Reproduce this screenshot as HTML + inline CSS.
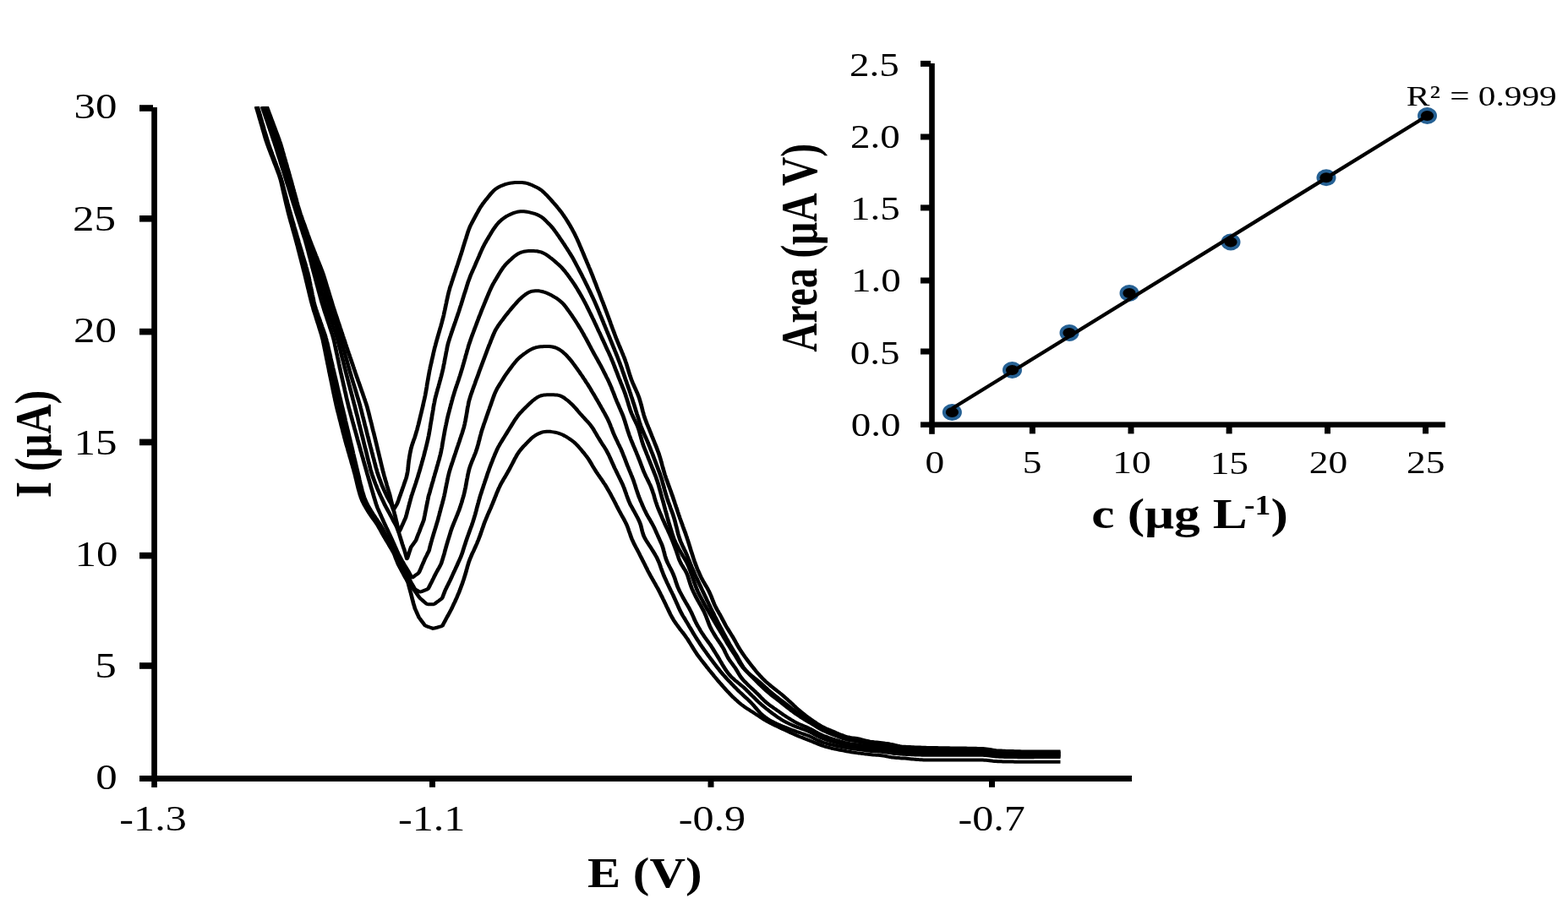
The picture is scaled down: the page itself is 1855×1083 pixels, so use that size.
<!DOCTYPE html><html><head><meta charset="utf-8"><title>Voltammograms and calibration plot</title><style>html,body{margin:0;padding:0;background:#fff;}body{width:1855px;height:1083px;overflow:hidden;}svg{display:block;} text{font-family:"Liberation Serif","Times New Roman",serif;fill:#000;}</style></head><body>
<svg width="1855" height="1083" viewBox="0 0 1855 1083">
<rect width="1855" height="1083" fill="#fff"/>
<defs><clipPath id="pc"><rect x="150" y="125.8" width="1200" height="900"/></clipPath></defs>
<g clip-path="url(#pc)"><g transform="scale(1.17,1)" fill="none" stroke="#000" stroke-width="4.0" stroke-linejoin="round" stroke-linecap="butt">
<path d="M259.0,126.0 L259.4,127.9 L259.9,129.8 L260.4,131.8 L260.9,133.7 L261.4,135.6 L261.8,137.5 L262.3,139.5 L262.8,141.4 L263.3,143.3 L263.7,145.2 L264.2,147.1 L264.7,149.1 L265.2,151.0 L265.6,152.9 L266.1,154.8 L266.6,156.8 L267.1,158.7 L267.5,160.6 L268.0,162.5 L268.5,164.4 L269.0,166.3 L269.6,168.2 L270.1,170.1 L270.7,172.0 L271.3,173.9 L271.9,175.8 L272.5,177.6 L273.1,179.5 L273.7,181.4 L274.3,183.2 L275.0,185.1 L275.6,187.0 L276.2,188.8 L276.8,190.7 L277.4,192.6 L278.0,194.4 L278.7,196.3 L279.3,198.2 L279.9,200.0 L280.5,201.9 L281.1,203.8 L281.7,205.7 L282.3,207.5 L282.8,209.4 L283.3,211.3 L283.8,213.3 L284.2,215.2 L284.6,217.1 L285.0,219.1 L285.4,221.0 L285.8,223.0 L286.1,224.9 L286.5,226.9 L286.9,228.8 L287.3,230.8 L287.7,232.7 L288.0,234.7 L288.4,236.6 L288.8,238.6 L289.2,240.5 L289.6,242.5 L290.0,244.4 L290.4,246.4 L290.8,248.3 L291.2,250.3 L291.6,252.2 L292.0,254.1 L292.5,256.1 L292.9,258.0 L293.4,259.9 L293.8,261.9 L294.3,263.8 L294.8,265.7 L295.2,267.7 L295.7,269.6 L296.1,271.5 L296.6,273.4 L297.1,275.4 L297.5,277.3 L298.0,279.2 L298.4,281.1 L298.9,283.1 L299.3,285.0 L299.8,286.9 L300.2,288.9 L300.7,290.8 L301.1,292.7 L301.5,294.7 L301.9,296.6 L302.4,298.6 L302.8,300.5 L303.2,302.4 L303.6,304.4 L304.1,306.3 L304.5,308.3 L304.9,310.2 L305.3,312.1 L305.8,314.1 L306.2,316.0 L306.6,317.9 L307.0,319.9 L307.5,321.8 L307.9,323.8 L308.3,325.7 L308.7,327.7 L309.1,329.6 L309.5,331.5 L309.9,333.5 L310.3,335.4 L310.7,337.4 L311.1,339.3 L311.5,341.3 L311.9,343.2 L312.3,345.2 L312.7,347.1 L313.1,349.1 L313.5,351.0 L313.9,352.9 L314.3,354.9 L314.7,356.8 L315.2,358.8 L315.6,360.7 L316.1,362.6 L316.6,364.5 L317.0,366.5 L317.5,368.4 L318.1,370.3 L318.6,372.2 L319.1,374.1 L319.6,376.0 L320.1,377.9 L320.6,379.8 L321.1,381.7 L321.7,383.6 L322.2,385.5 L322.7,387.5 L323.2,389.4 L323.7,391.3 L324.2,393.2 L324.7,395.1 L325.2,397.0 L325.6,398.9 L326.1,400.9 L326.5,402.8 L326.8,404.8 L327.2,406.7 L327.5,408.7 L327.9,410.7 L328.2,412.6 L328.6,414.6 L328.9,416.5 L329.2,418.5 L329.6,420.5 L329.9,422.4 L330.2,424.4 L330.6,426.4 L330.9,428.3 L331.2,430.3 L331.6,432.2 L331.9,434.2 L332.3,436.2 L332.6,438.1 L332.9,440.1 L333.3,442.0 L333.6,444.0 L334.0,446.0 L334.3,447.9 L334.7,449.9 L335.0,451.8 L335.4,453.8 L335.7,455.8 L336.0,457.7 L336.4,459.7 L336.7,461.6 L337.1,463.6 L337.4,465.6 L337.8,467.5 L338.1,469.5 L338.5,471.4 L338.8,473.4 L339.2,475.4 L339.6,477.3 L339.9,479.3 L340.3,481.2 L340.7,483.2 L341.1,485.1 L341.5,487.0 L342.0,489.0 L342.4,490.9 L342.8,492.9 L343.2,494.8 L343.6,496.7 L344.1,498.7 L344.5,500.6 L344.9,502.6 L345.3,504.5 L345.8,506.4 L346.2,508.4 L346.6,510.3 L347.0,512.3 L347.5,514.2 L347.9,516.1 L348.3,518.1 L348.8,520.0 L349.2,521.9 L349.7,523.9 L350.1,525.8 L350.6,527.7 L351.1,529.6 L351.6,531.6 L352.0,533.5 L352.5,535.4 L353.0,537.3 L353.4,539.2 L353.9,541.2 L354.4,543.1 L354.9,545.0 L355.3,546.9 L355.8,548.9 L356.3,550.8 L356.7,552.7 L357.2,554.6 L357.7,556.6 L358.1,558.5 L358.6,560.4 L359.0,562.4 L359.4,564.3 L359.8,566.3 L360.2,568.2 L360.6,570.1 L361.0,572.1 L361.4,574.0 L361.8,576.0 L362.2,577.9 L362.7,579.9 L363.1,581.8 L363.6,583.7 L364.0,585.6 L364.6,587.5 L365.1,589.4 L365.8,591.3 L366.4,593.1 L367.2,594.9 L367.9,596.7 L368.7,598.4 L369.6,600.2 L370.4,601.9 L371.3,603.6 L372.2,605.3 L373.1,607.0 L374.1,608.7 L375.0,610.3 L376.0,612.0 L377.0,613.6 L378.0,615.2 L379.0,616.8 L380.0,618.5 L380.9,620.1 L381.9,621.8 L382.7,623.5 L383.6,625.3 L384.4,627.0 L385.2,628.8 L386.0,630.5 L386.9,632.3 L387.7,634.0 L388.6,635.7 L389.5,637.5 L390.3,639.2 L391.2,640.9 L392.1,642.6 L393.0,644.3 L393.8,646.1 L394.7,647.8 L395.6,649.5 L396.4,651.2 L397.3,653.0 L398.1,654.7 L398.8,656.5 L399.4,658.4 L400.0,660.3 L400.6,662.1 L401.3,664.0 L401.9,665.9 L402.5,667.7 L403.3,669.5 L404.1,671.3 L404.9,673.0 L405.7,674.8 L406.5,676.5 L407.4,678.3 L408.2,680.1 L409.0,681.8 L409.8,683.6 L410.7,685.3 L411.5,687.1 L412.3,688.8 L412.8,690.7 L413.2,692.7 L413.7,694.6 L414.1,696.5 L414.6,698.5 L415.0,700.4 L415.5,702.3 L415.9,704.3 L416.3,706.2 L416.7,708.2 L417.1,710.1 L417.6,712.0 L418.0,714.0 L418.5,715.9 L419.0,717.8 L419.4,719.7 L420.1,721.6 L420.8,723.4 L421.5,725.2 L422.2,727.1 L422.9,728.9 L423.6,730.7 L424.6,732.3 L425.6,733.9 L426.6,735.5 L427.7,737.1 L428.7,738.7 L429.7,740.3 L431.3,741.1 L432.9,741.8 L434.5,742.5 L436.1,743.2 L437.7,743.9 L439.3,743.5 L441.0,743.0 L442.6,742.5 L444.3,741.9 L445.9,741.4 L447.4,740.6 L448.2,738.8 L449.0,737.0 L449.8,735.3 L450.6,733.5 L451.4,731.7 L452.2,730.0 L453.1,728.3 L453.9,726.5 L454.7,724.7 L455.5,723.0 L456.3,721.2 L457.1,719.4 L457.8,717.6 L458.5,715.8 L459.2,714.0 L460.0,712.2 L460.7,710.3 L461.4,708.5 L462.1,706.7 L462.7,704.9 L463.4,703.0 L464.1,701.2 L464.7,699.3 L465.3,697.4 L465.9,695.6 L466.5,693.7 L467.1,691.8 L467.7,689.9 L468.2,688.0 L468.8,686.1 L469.3,684.2 L469.8,682.3 L470.3,680.4 L470.8,678.5 L471.3,676.6 L471.7,674.6 L472.2,672.7 L472.6,670.8 L473.1,668.9 L473.6,667.0 L474.1,665.1 L474.7,663.2 L475.3,661.3 L476.0,659.5 L476.6,657.7 L477.3,655.8 L478.0,654.0 L478.8,652.2 L479.5,650.4 L480.2,648.5 L480.9,646.7 L481.6,644.9 L482.3,643.1 L482.9,641.2 L483.6,639.4 L484.2,637.5 L484.8,635.6 L485.4,633.8 L486.0,631.9 L486.5,630.0 L487.1,628.1 L487.6,626.2 L488.2,624.3 L488.8,622.4 L489.3,620.5 L489.9,618.7 L490.5,616.8 L491.2,614.9 L491.8,613.1 L492.5,611.2 L493.1,609.4 L493.8,607.6 L494.5,605.7 L495.2,603.9 L495.9,602.1 L496.6,600.2 L497.2,598.4 L497.9,596.5 L498.5,594.7 L499.2,592.8 L499.8,591.0 L500.4,589.1 L501.1,587.3 L501.7,585.4 L502.3,583.5 L503.0,581.7 L503.7,579.8 L504.3,578.0 L505.1,576.2 L505.8,574.4 L506.6,572.7 L507.4,570.9 L508.3,569.2 L509.1,567.4 L510.0,565.7 L510.9,564.0 L511.7,562.3 L512.6,560.5 L513.4,558.8 L514.3,557.0 L515.1,555.3 L515.9,553.5 L516.7,551.7 L517.5,550.0 L518.3,548.2 L519.1,546.4 L519.8,544.7 L520.6,542.9 L521.5,541.1 L522.3,539.4 L523.1,537.7 L524.1,536.0 L525.0,534.4 L526.1,532.8 L527.2,531.3 L528.3,529.8 L529.4,528.3 L530.6,526.9 L531.8,525.4 L533.0,524.0 L534.2,522.5 L535.4,521.1 L536.6,519.7 L537.8,518.4 L539.1,517.1 L540.5,516.0 L541.9,514.9 L543.3,514.0 L544.9,513.1 L546.4,512.4 L548.0,511.7 L549.6,511.2 L551.2,510.9 L552.8,510.7 L554.5,510.7 L556.2,510.8 L557.8,511.1 L559.5,511.4 L561.2,511.7 L562.8,512.2 L564.5,512.7 L566.1,513.3 L567.6,514.0 L569.2,514.8 L570.6,515.7 L572.1,516.7 L573.6,517.7 L575.0,518.8 L576.4,519.9 L577.8,521.0 L579.2,522.2 L580.5,523.4 L581.8,524.8 L583.0,526.2 L584.2,527.6 L585.3,529.1 L586.4,530.6 L587.5,532.1 L588.6,533.7 L589.7,535.2 L590.8,536.7 L591.8,538.3 L592.9,539.9 L593.9,541.5 L594.9,543.1 L595.8,544.8 L596.7,546.5 L597.6,548.2 L598.4,549.9 L599.3,551.7 L600.2,553.4 L601.1,555.1 L602.0,556.8 L602.9,558.5 L603.8,560.1 L604.8,561.8 L605.8,563.4 L606.8,565.1 L607.8,566.7 L608.7,568.3 L609.7,570.0 L610.6,571.7 L611.6,573.3 L612.5,575.0 L613.4,576.7 L614.2,578.5 L615.1,580.2 L615.9,581.9 L616.8,583.7 L617.6,585.4 L618.4,587.2 L619.2,589.0 L620.0,590.7 L620.8,592.5 L621.6,594.3 L622.4,596.1 L623.1,597.8 L623.9,599.6 L624.7,601.4 L625.5,603.2 L626.3,605.0 L627.1,606.7 L627.9,608.5 L628.7,610.2 L629.6,612.0 L630.4,613.7 L631.2,615.4 L632.0,617.2 L632.8,619.0 L633.5,620.8 L634.2,622.6 L634.8,624.5 L635.4,626.4 L635.9,628.3 L636.5,630.1 L637.1,632.0 L637.6,633.9 L638.2,635.8 L638.8,637.7 L639.5,639.5 L640.2,641.3 L640.9,643.1 L641.7,644.9 L642.5,646.7 L643.3,648.5 L644.1,650.2 L644.9,652.0 L645.7,653.8 L646.5,655.5 L647.2,657.3 L648.0,659.1 L648.8,660.9 L649.6,662.7 L650.3,664.4 L651.1,666.2 L651.9,668.0 L652.6,669.8 L653.4,671.6 L654.2,673.4 L654.9,675.2 L655.7,677.0 L656.5,678.7 L657.3,680.5 L658.1,682.2 L659.0,684.0 L659.8,685.7 L660.7,687.5 L661.5,689.2 L662.4,690.9 L663.2,692.7 L664.0,694.4 L664.9,696.2 L665.7,697.9 L666.5,699.7 L667.3,701.5 L668.0,703.3 L668.8,705.1 L669.6,706.9 L670.3,708.7 L671.1,710.5 L671.8,712.3 L672.6,714.1 L673.3,715.9 L674.0,717.7 L674.8,719.5 L675.5,721.3 L676.2,723.1 L677.0,724.9 L677.7,726.7 L678.5,728.5 L679.3,730.2 L680.2,732.0 L681.0,733.7 L682.0,735.4 L682.9,737.0 L683.9,738.7 L684.9,740.3 L685.9,741.9 L686.9,743.5 L687.9,745.1 L689.0,746.7 L690.0,748.3 L691.1,749.8 L692.1,751.4 L693.1,753.0 L694.1,754.7 L695.1,756.3 L696.0,758.0 L696.9,759.7 L697.8,761.4 L698.7,763.1 L699.6,764.8 L700.5,766.5 L701.4,768.2 L702.3,769.9 L703.2,771.6 L704.2,773.3 L705.1,774.9 L706.1,776.5 L707.2,778.1 L708.2,779.7 L709.2,781.3 L710.3,782.9 L711.3,784.4 L712.4,786.0 L713.5,787.6 L714.5,789.2 L715.6,790.7 L716.6,792.3 L717.7,793.9 L718.8,795.4 L719.9,797.0 L721.0,798.5 L722.0,800.1 L723.1,801.6 L724.2,803.1 L725.3,804.7 L726.4,806.2 L727.5,807.7 L728.7,809.2 L729.8,810.7 L730.9,812.2 L732.1,813.7 L733.2,815.2 L734.3,816.7 L735.5,818.2 L736.7,819.6 L737.8,821.1 L739.0,822.5 L740.2,824.0 L741.4,825.4 L742.7,826.7 L743.9,828.1 L745.2,829.4 L746.5,830.8 L747.8,832.1 L749.1,833.4 L750.4,834.6 L751.8,835.8 L753.2,836.9 L754.6,838.1 L756.0,839.1 L757.5,840.2 L758.9,841.3 L760.4,842.3 L761.8,843.4 L763.2,844.5 L764.7,845.6 L766.1,846.7 L767.5,847.8 L768.9,848.9 L770.3,850.0 L771.8,851.1 L773.2,852.2 L774.7,853.2 L776.2,854.1 L777.7,855.1 L779.2,856.0 L780.7,856.9 L782.3,857.8 L783.8,858.7 L785.4,859.5 L786.9,860.4 L788.4,861.3 L790.0,862.1 L791.5,863.0 L793.1,863.8 L794.6,864.6 L796.2,865.5 L797.8,866.3 L799.3,867.2 L800.9,868.0 L802.4,868.8 L804.0,869.6 L805.5,870.4 L807.1,871.2 L808.7,872.0 L810.3,872.7 L811.9,873.4 L813.5,874.2 L815.1,874.9 L816.7,875.6 L818.3,876.3 L819.9,877.1 L821.4,877.8 L823.0,878.6 L824.6,879.3 L826.2,880.1 L827.8,880.9 L829.4,881.6 L831.0,882.3 L832.6,883.0 L834.2,883.6 L835.8,884.2 L837.5,884.7 L839.1,885.2 L840.8,885.7 L842.4,886.1 L844.1,886.5 L845.8,886.9 L847.5,887.3 L849.2,887.7 L850.8,888.0 L852.5,888.4 L854.2,888.8 L855.9,889.2 L857.6,889.5 L859.2,889.8 L860.9,890.2 L862.6,890.5 L864.3,890.8 L866.0,891.1 L867.7,891.4 L869.4,891.6 L871.1,891.9 L872.8,892.1 L874.5,892.4 L876.2,892.6 L877.9,892.8 L879.6,893.1 L881.3,893.2 L883.0,893.4 L884.7,893.5 L886.4,893.7 L888.1,893.8 L889.8,894.0 L891.5,894.2 L893.2,894.5 L894.8,894.8 L896.5,895.2 L898.1,895.6 L899.8,896.0 L901.5,896.4 L903.1,896.6 L904.8,896.8 L906.5,897.0 L908.2,897.1 L909.9,897.3 L911.6,897.4 L913.4,897.5 L915.1,897.6 L916.8,897.8 L918.5,898.0 L920.2,898.2 L921.9,898.4 L923.6,898.6 L925.3,898.7 L927.0,898.9 L928.7,899.1 L930.4,899.2 L932.1,899.3 L933.8,899.4 L935.5,899.5 L937.2,899.5 L938.9,899.5 L940.6,899.5 L942.4,899.5 L944.1,899.5 L945.8,899.5 L947.5,899.5 L949.2,899.5 L950.9,899.5 L952.6,899.5 L954.3,899.5 L956.0,899.5 L957.7,899.5 L959.5,899.5 L961.2,899.5 L962.9,899.5 L964.6,899.5 L966.3,899.5 L968.0,899.5 L969.7,899.5 L971.4,899.5 L973.1,899.5 L974.9,899.5 L976.6,899.5 L978.3,899.5 L980.0,899.5 L981.7,899.5 L983.4,899.5 L985.1,899.5 L986.8,899.5 L988.5,899.5 L990.2,899.5 L992.0,899.5 L993.7,899.6 L995.4,899.7 L997.1,899.8 L998.8,900.0 L1000.5,900.2 L1002.2,900.4 L1003.8,900.7 L1005.5,900.9 L1007.2,901.0 L1008.9,901.2 L1010.7,901.3 L1012.4,901.3 L1014.1,901.4 L1015.8,901.4 L1017.5,901.5 L1019.2,901.5 L1020.9,901.6 L1022.6,901.6 L1024.3,901.6 L1026.0,901.7 L1027.7,901.7 L1029.5,901.7 L1031.2,901.8 L1032.9,901.8 L1034.6,901.8 L1036.3,901.8 L1038.0,901.8 L1039.7,901.8 L1041.4,901.8 L1043.1,901.8 L1044.9,901.8 L1046.6,901.8 L1048.3,901.8 L1050.0,901.8 L1051.7,901.8 L1053.4,901.8 L1055.1,901.8 L1056.8,901.8 L1058.5,901.8 L1060.2,901.8 L1062.0,901.8 L1063.7,901.8 L1065.4,901.8 L1067.1,901.8 L1068.8,901.8 L1070.5,901.8 L1072.2,901.8"/>
<path d="M259.7,126.0 L260.1,127.9 L260.6,129.8 L261.1,131.8 L261.6,133.7 L262.0,135.6 L262.5,137.5 L263.0,139.4 L263.5,141.4 L263.9,143.3 L264.4,145.2 L264.9,147.1 L265.4,149.1 L265.8,151.0 L266.3,152.9 L266.8,154.8 L267.3,156.7 L267.7,158.7 L268.2,160.6 L268.7,162.5 L269.2,164.4 L269.7,166.3 L270.2,168.2 L270.8,170.1 L271.4,172.0 L272.0,173.9 L272.6,175.7 L273.2,177.6 L273.8,179.5 L274.4,181.3 L275.0,183.2 L275.6,185.1 L276.3,186.9 L276.9,188.8 L277.5,190.7 L278.1,192.5 L278.7,194.4 L279.3,196.3 L279.9,198.1 L280.6,200.0 L281.2,201.9 L281.8,203.7 L282.4,205.6 L282.9,207.5 L283.5,209.4 L284.0,211.3 L284.5,213.2 L284.9,215.1 L285.3,217.1 L285.8,219.0 L286.2,221.0 L286.6,222.9 L287.0,224.8 L287.4,226.8 L287.8,228.7 L288.2,230.7 L288.6,232.6 L289.0,234.6 L289.4,236.5 L289.8,238.5 L290.2,240.4 L290.6,242.3 L291.0,244.3 L291.4,246.2 L291.8,248.2 L292.2,250.1 L292.7,252.0 L293.1,254.0 L293.6,255.9 L294.0,257.8 L294.5,259.8 L294.9,261.7 L295.4,263.6 L295.9,265.5 L296.3,267.5 L296.8,269.4 L297.3,271.3 L297.7,273.2 L298.2,275.2 L298.6,277.1 L299.1,279.0 L299.6,280.9 L300.0,282.9 L300.5,284.8 L301.0,286.7 L301.4,288.6 L301.9,290.6 L302.3,292.5 L302.8,294.4 L303.2,296.3 L303.7,298.3 L304.2,300.2 L304.6,302.1 L305.1,304.1 L305.5,306.0 L306.0,307.9 L306.5,309.8 L306.9,311.8 L307.4,313.7 L307.8,315.6 L308.3,317.5 L308.7,319.5 L309.2,321.4 L309.6,323.3 L310.0,325.3 L310.4,327.2 L310.8,329.2 L311.2,331.1 L311.5,333.1 L311.9,335.0 L312.3,337.0 L312.6,338.9 L313.0,340.9 L313.4,342.9 L313.7,344.8 L314.1,346.8 L314.5,348.7 L314.8,350.7 L315.2,352.6 L315.6,354.6 L316.0,356.5 L316.4,358.5 L316.8,360.4 L317.3,362.3 L317.8,364.2 L318.3,366.1 L318.8,368.0 L319.3,369.9 L319.9,371.8 L320.4,373.7 L321.0,375.6 L321.5,377.5 L322.0,379.4 L322.6,381.3 L323.1,383.2 L323.7,385.1 L324.2,387.0 L324.8,388.9 L325.3,390.8 L325.8,392.7 L326.4,394.6 L326.9,396.5 L327.4,398.4 L327.8,400.3 L328.3,402.3 L328.7,404.2 L329.1,406.2 L329.5,408.1 L329.8,410.1 L330.2,412.0 L330.6,414.0 L330.9,415.9 L331.3,417.9 L331.7,419.8 L332.0,421.8 L332.4,423.7 L332.8,425.7 L333.1,427.6 L333.5,429.6 L333.9,431.5 L334.2,433.5 L334.6,435.5 L335.0,437.4 L335.4,439.4 L335.7,441.3 L336.1,443.3 L336.5,445.2 L336.8,447.2 L337.2,449.1 L337.6,451.1 L338.0,453.0 L338.3,455.0 L338.7,456.9 L339.1,458.9 L339.5,460.8 L339.9,462.8 L340.2,464.7 L340.6,466.7 L341.0,468.6 L341.4,470.6 L341.7,472.5 L342.1,474.5 L342.5,476.4 L342.9,478.4 L343.3,480.3 L343.7,482.3 L344.1,484.2 L344.5,486.2 L344.9,488.1 L345.3,490.0 L345.7,492.0 L346.1,493.9 L346.6,495.9 L347.0,497.8 L347.4,499.7 L347.8,501.7 L348.2,503.6 L348.6,505.6 L349.0,507.5 L349.5,509.4 L349.9,511.4 L350.3,513.3 L350.7,515.3 L351.1,517.2 L351.5,519.1 L351.9,521.1 L352.4,523.0 L352.8,525.0 L353.2,526.9 L353.6,528.9 L354.0,530.8 L354.4,532.7 L354.8,534.7 L355.3,536.6 L355.7,538.6 L356.1,540.5 L356.5,542.4 L356.9,544.4 L357.3,546.3 L357.7,548.3 L358.2,550.2 L358.6,552.1 L359.0,554.1 L359.4,556.0 L359.8,558.0 L360.2,559.9 L360.6,561.9 L361.0,563.8 L361.4,565.7 L361.8,567.7 L362.2,569.6 L362.6,571.6 L363.0,573.5 L363.4,575.5 L363.8,577.4 L364.3,579.3 L364.7,581.3 L365.2,583.2 L365.6,585.1 L366.1,587.0 L366.7,588.9 L367.3,590.8 L368.0,592.6 L368.7,594.4 L369.4,596.2 L370.2,597.9 L371.0,599.7 L371.9,601.4 L372.8,603.2 L373.7,604.9 L374.6,606.6 L375.5,608.2 L376.4,609.9 L377.4,611.6 L378.3,613.2 L379.3,614.9 L380.2,616.5 L381.2,618.2 L382.2,619.9 L383.1,621.5 L383.9,623.3 L384.8,625.0 L385.6,626.8 L386.4,628.5 L387.2,630.3 L388.0,632.0 L388.9,633.8 L389.7,635.5 L390.6,637.2 L391.5,638.9 L392.4,640.6 L393.3,642.4 L394.1,644.1 L395.0,645.8 L395.9,647.5 L396.7,649.3 L397.6,651.0 L398.4,652.7 L399.3,654.5 L400.0,656.3 L400.7,658.1 L401.3,660.0 L402.0,661.8 L402.7,663.6 L403.3,665.5 L404.0,667.3 L404.8,669.1 L405.5,670.9 L406.3,672.7 L407.0,674.5 L407.8,676.3 L408.6,678.1 L409.4,679.8 L410.2,681.6 L411.0,683.3 L411.9,685.1 L412.7,686.8 L413.5,688.6 L414.4,690.3 L415.3,692.0 L416.2,693.7 L417.2,695.3 L418.1,697.0 L419.0,698.7 L420.0,700.4 L421.0,702.0 L421.9,703.6 L422.9,705.3 L423.9,706.9 L425.0,708.4 L426.3,709.7 L427.6,711.0 L428.9,712.3 L430.2,713.6 L431.5,714.9 L433.1,715.2 L434.8,715.2 L436.6,715.2 L438.3,715.2 L439.8,714.5 L441.1,713.3 L442.5,712.1 L443.9,710.9 L445.2,709.7 L446.6,708.5 L447.5,706.9 L448.1,705.0 L448.7,703.2 L449.3,701.3 L449.9,699.4 L450.6,697.6 L451.4,695.8 L452.1,694.0 L452.9,692.2 L453.7,690.4 L454.4,688.6 L455.2,686.8 L455.9,685.0 L456.6,683.2 L457.3,681.4 L458.0,679.6 L458.7,677.7 L459.5,675.9 L460.2,674.1 L460.9,672.3 L461.6,670.5 L462.3,668.7 L463.0,666.8 L463.7,665.0 L464.4,663.2 L465.1,661.4 L465.8,659.5 L466.4,657.7 L467.0,655.8 L467.6,653.9 L468.1,652.0 L468.6,650.1 L469.1,648.2 L469.6,646.3 L470.2,644.4 L470.7,642.5 L471.2,640.6 L471.8,638.7 L472.3,636.8 L472.9,634.9 L473.5,633.0 L474.1,631.2 L474.6,629.3 L475.2,627.4 L475.8,625.5 L476.4,623.6 L477.0,621.8 L477.5,619.9 L478.1,618.0 L478.6,616.1 L479.1,614.2 L479.6,612.3 L480.1,610.3 L480.6,608.4 L481.0,606.5 L481.5,604.5 L481.9,602.6 L482.3,600.7 L482.8,598.8 L483.2,596.8 L483.7,594.9 L484.1,593.0 L484.6,591.0 L485.1,589.1 L485.5,587.2 L486.0,585.3 L486.6,583.4 L487.1,581.5 L487.6,579.6 L488.2,577.7 L488.7,575.8 L489.2,573.9 L489.8,572.0 L490.3,570.1 L490.9,568.2 L491.4,566.3 L492.0,564.4 L492.5,562.5 L493.0,560.6 L493.6,558.7 L494.2,556.8 L494.7,554.9 L495.3,553.1 L495.9,551.2 L496.5,549.3 L497.1,547.5 L497.8,545.6 L498.4,543.7 L499.0,541.9 L499.7,540.0 L500.3,538.2 L501.0,536.3 L501.7,534.5 L502.3,532.7 L503.1,530.9 L503.8,529.1 L504.7,527.3 L505.5,525.6 L506.4,523.9 L507.3,522.2 L508.2,520.5 L509.1,518.8 L510.0,517.1 L510.9,515.4 L511.8,513.7 L512.7,512.0 L513.6,510.3 L514.5,508.6 L515.4,506.9 L516.3,505.2 L517.2,503.5 L518.1,501.8 L519.0,500.1 L519.9,498.4 L520.8,496.7 L521.8,495.1 L522.8,493.5 L523.8,491.9 L524.9,490.3 L526.0,488.8 L527.1,487.4 L528.3,485.9 L529.5,484.5 L530.7,483.1 L531.9,481.7 L533.2,480.3 L534.4,478.9 L535.6,477.5 L536.9,476.2 L538.1,474.8 L539.5,473.6 L540.8,472.3 L542.1,471.2 L543.5,470.1 L545.0,469.2 L546.5,468.5 L548.1,468.0 L549.7,467.6 L551.3,467.4 L553.0,467.3 L554.7,467.2 L556.4,467.2 L558.1,467.2 L559.8,467.3 L561.5,467.4 L563.1,467.5 L564.7,467.9 L566.3,468.4 L567.8,469.1 L569.2,470.0 L570.6,471.0 L571.9,472.2 L573.3,473.4 L574.6,474.7 L575.9,476.0 L577.1,477.3 L578.4,478.7 L579.6,480.1 L580.7,481.6 L581.9,483.0 L583.0,484.5 L584.1,486.1 L585.2,487.6 L586.3,489.1 L587.4,490.6 L588.6,492.1 L589.7,493.6 L590.9,495.1 L592.0,496.5 L593.2,498.0 L594.4,499.4 L595.5,500.9 L596.6,502.4 L597.6,504.0 L598.6,505.6 L599.6,507.3 L600.5,509.0 L601.3,510.7 L602.2,512.4 L603.1,514.1 L603.9,515.9 L604.8,517.6 L605.7,519.3 L606.6,521.0 L607.5,522.7 L608.4,524.4 L609.3,526.1 L610.3,527.7 L611.2,529.4 L612.1,531.1 L613.0,532.8 L613.8,534.6 L614.6,536.3 L615.4,538.1 L616.1,539.9 L616.8,541.7 L617.5,543.5 L618.2,545.4 L618.9,547.2 L619.6,549.0 L620.3,550.8 L621.0,552.7 L621.7,554.5 L622.5,556.3 L623.2,558.1 L624.0,559.9 L624.7,561.7 L625.5,563.5 L626.2,565.3 L627.0,567.1 L627.7,568.9 L628.5,570.7 L629.2,572.5 L629.9,574.3 L630.5,576.1 L631.2,578.0 L631.7,579.9 L632.3,581.8 L632.9,583.6 L633.4,585.5 L634.0,587.4 L634.6,589.3 L635.2,591.2 L635.8,593.0 L636.5,594.9 L637.2,596.7 L637.9,598.4 L638.8,600.2 L639.6,601.9 L640.4,603.7 L641.3,605.4 L642.1,607.2 L642.9,608.9 L643.7,610.7 L644.5,612.4 L645.3,614.2 L646.0,616.0 L646.7,617.8 L647.3,619.7 L647.9,621.6 L648.3,623.5 L648.7,625.4 L649.1,627.3 L649.5,629.2 L650.0,631.1 L650.5,633.0 L651.1,634.8 L651.9,636.6 L652.7,638.3 L653.5,640.0 L654.5,641.7 L655.4,643.4 L656.3,645.1 L657.3,646.7 L658.2,648.4 L659.1,650.1 L660.0,651.8 L660.9,653.5 L661.8,655.2 L662.6,656.9 L663.5,658.7 L664.3,660.4 L665.0,662.2 L665.7,664.0 L666.4,665.9 L667.0,667.7 L667.6,669.6 L668.1,671.5 L668.7,673.4 L669.3,675.3 L669.9,677.1 L670.5,679.0 L671.1,680.8 L671.8,682.7 L672.5,684.5 L673.2,686.3 L673.9,688.1 L674.6,690.0 L675.4,691.8 L676.1,693.6 L676.8,695.4 L677.6,697.2 L678.3,699.0 L679.1,700.8 L679.8,702.5 L680.6,704.3 L681.3,706.2 L682.0,708.0 L682.7,709.8 L683.4,711.6 L684.1,713.5 L684.8,715.3 L685.5,717.1 L686.2,719.0 L686.9,720.8 L687.6,722.6 L688.4,724.3 L689.2,726.1 L690.0,727.8 L690.9,729.6 L691.8,731.3 L692.7,733.0 L693.5,734.7 L694.4,736.4 L695.3,738.1 L696.2,739.9 L697.0,741.6 L697.9,743.3 L698.8,745.0 L699.7,746.7 L700.5,748.5 L701.4,750.2 L702.3,751.9 L703.2,753.6 L704.1,755.3 L705.0,757.0 L705.9,758.6 L706.9,760.3 L707.8,762.0 L708.8,763.7 L709.7,765.3 L710.7,766.9 L711.7,768.6 L712.7,770.2 L713.7,771.8 L714.7,773.5 L715.7,775.1 L716.7,776.7 L717.7,778.3 L718.7,779.9 L719.8,781.5 L720.8,783.1 L721.8,784.7 L722.9,786.3 L723.9,787.9 L724.9,789.5 L726.0,791.0 L727.1,792.6 L728.1,794.2 L729.2,795.7 L730.3,797.2 L731.4,798.7 L732.6,800.2 L733.7,801.7 L734.8,803.2 L736.0,804.7 L737.2,806.2 L738.3,807.6 L739.5,809.1 L740.7,810.5 L741.9,811.9 L743.1,813.4 L744.3,814.8 L745.5,816.2 L746.7,817.6 L747.9,819.0 L749.2,820.4 L750.4,821.7 L751.7,823.1 L752.9,824.5 L754.2,825.8 L755.5,827.2 L756.7,828.5 L757.9,829.9 L759.1,831.3 L760.3,832.8 L761.5,834.2 L762.6,835.7 L763.7,837.3 L764.8,838.8 L765.9,840.3 L767.1,841.8 L768.2,843.2 L769.4,844.6 L770.7,846.0 L772.0,847.3 L773.3,848.5 L774.7,849.6 L776.1,850.7 L777.5,851.8 L779.0,852.8 L780.5,853.8 L782.0,854.7 L783.5,855.6 L785.1,856.5 L786.6,857.3 L788.2,858.1 L789.7,858.9 L791.3,859.7 L792.9,860.4 L794.5,861.1 L796.1,861.9 L797.7,862.6 L799.3,863.3 L800.9,864.0 L802.5,864.7 L804.1,865.4 L805.7,866.1 L807.3,866.7 L808.9,867.3 L810.6,868.0 L812.2,868.6 L813.8,869.3 L815.4,870.0 L817.0,870.7 L818.6,871.4 L820.1,872.3 L821.6,873.1 L823.1,874.0 L824.6,874.9 L826.1,875.8 L827.7,876.6 L829.3,877.4 L830.8,878.1 L832.4,878.8 L834.1,879.4 L835.7,880.0 L837.3,880.5 L839.0,881.0 L840.7,881.5 L842.3,881.9 L844.0,882.3 L845.7,882.8 L847.3,883.2 L849.0,883.6 L850.7,884.0 L852.4,884.4 L854.0,884.8 L855.7,885.1 L857.4,885.4 L859.1,885.7 L860.8,886.0 L862.5,886.3 L864.2,886.5 L865.9,886.7 L867.6,887.0 L869.3,887.2 L871.0,887.5 L872.7,887.8 L874.4,888.0 L876.1,888.3 L877.7,888.5 L879.4,888.7 L881.2,888.9 L882.9,889.0 L884.6,889.1 L886.3,889.3 L888.0,889.4 L889.7,889.5 L891.4,889.7 L893.1,889.9 L894.8,890.2 L896.4,890.5 L898.1,890.8 L899.8,891.1 L901.5,891.4 L903.2,891.7 L904.9,891.9 L906.6,892.1 L908.3,892.3 L910.0,892.5 L911.7,892.6 L913.4,892.7 L915.1,892.8 L916.8,892.9 L918.5,893.0 L920.2,893.1 L921.9,893.2 L923.6,893.3 L925.3,893.4 L927.1,893.5 L928.8,893.6 L930.5,893.6 L932.2,893.7 L933.9,893.7 L935.6,893.7 L937.3,893.7 L939.0,893.7 L940.7,893.7 L942.4,893.7 L944.1,893.7 L945.9,893.7 L947.6,893.7 L949.3,893.7 L951.0,893.7 L952.7,893.7 L954.4,893.7 L956.1,893.7 L957.8,893.7 L959.5,893.7 L961.2,893.7 L962.9,893.7 L964.7,893.7 L966.4,893.7 L968.1,893.7 L969.8,893.7 L971.5,893.7 L973.2,893.7 L974.9,893.7 L976.6,893.7 L978.3,893.7 L980.0,893.7 L981.8,893.7 L983.5,893.7 L985.2,893.7 L986.9,893.7 L988.6,893.7 L990.3,893.7 L992.0,893.7 L993.7,893.8 L995.4,893.9 L997.1,894.1 L998.8,894.3 L1000.5,894.5 L1002.2,894.7 L1003.9,895.0 L1005.6,895.2 L1007.3,895.4 L1009.0,895.6 L1010.7,895.7 L1012.4,895.8 L1014.1,895.8 L1015.8,895.9 L1017.5,895.9 L1019.2,896.0 L1020.9,896.0 L1022.6,896.0 L1024.4,896.1 L1026.1,896.1 L1027.8,896.1 L1029.5,896.2 L1031.2,896.2 L1032.9,896.2 L1034.6,896.2 L1036.3,896.2 L1038.0,896.2 L1039.7,896.2 L1041.4,896.2 L1043.2,896.2 L1044.9,896.2 L1046.6,896.1 L1048.3,896.1 L1050.0,896.1 L1051.7,896.1 L1053.4,896.1 L1055.1,896.1 L1056.8,896.1 L1058.5,896.1 L1060.3,896.1 L1062.0,896.0 L1063.7,896.0 L1065.4,896.0 L1067.1,896.0 L1068.8,896.0 L1070.5,896.0 L1072.2,896.0"/>
<path d="M260.3,126.0 L260.8,127.9 L261.3,129.8 L261.8,131.8 L262.3,133.7 L262.7,135.6 L263.2,137.5 L263.7,139.4 L264.2,141.4 L264.7,143.3 L265.1,145.2 L265.6,147.1 L266.1,149.0 L266.6,151.0 L267.0,152.9 L267.5,154.8 L268.0,156.7 L268.5,158.6 L269.0,160.6 L269.5,162.5 L269.9,164.4 L270.5,166.3 L271.0,168.2 L271.5,170.1 L272.1,172.0 L272.6,173.9 L273.2,175.8 L273.8,177.6 L274.4,179.5 L275.0,181.4 L275.5,183.3 L276.1,185.2 L276.7,187.0 L277.3,188.9 L277.9,190.8 L278.5,192.7 L279.1,194.6 L279.6,196.4 L280.2,198.3 L280.8,200.2 L281.4,202.1 L282.0,204.0 L282.5,205.9 L283.1,207.7 L283.6,209.6 L284.1,211.5 L284.6,213.5 L285.1,215.4 L285.6,217.3 L286.0,219.2 L286.4,221.2 L286.9,223.1 L287.3,225.0 L287.8,227.0 L288.2,228.9 L288.6,230.8 L289.1,232.8 L289.5,234.7 L290.0,236.6 L290.4,238.6 L290.8,240.5 L291.3,242.4 L291.7,244.4 L292.2,246.3 L292.6,248.2 L293.1,250.2 L293.5,252.1 L294.0,254.0 L294.5,255.9 L295.0,257.9 L295.4,259.8 L295.9,261.7 L296.4,263.6 L296.9,265.5 L297.3,267.5 L297.8,269.4 L298.3,271.3 L298.8,273.2 L299.3,275.1 L299.7,277.1 L300.2,279.0 L300.7,280.9 L301.2,282.8 L301.7,284.7 L302.1,286.7 L302.6,288.6 L303.1,290.5 L303.6,292.4 L304.1,294.3 L304.6,296.2 L305.1,298.2 L305.5,300.1 L306.0,302.0 L306.5,303.9 L307.0,305.8 L307.5,307.7 L308.0,309.7 L308.5,311.6 L309.0,313.5 L309.4,315.4 L309.9,317.3 L310.4,319.3 L310.8,321.2 L311.3,323.1 L311.7,325.1 L312.1,327.0 L312.4,329.0 L312.8,330.9 L313.1,332.9 L313.5,334.8 L313.8,336.8 L314.1,338.8 L314.5,340.7 L314.8,342.7 L315.2,344.6 L315.5,346.6 L315.8,348.6 L316.2,350.5 L316.5,352.5 L316.9,354.4 L317.2,356.4 L317.6,358.3 L318.0,360.3 L318.5,362.2 L319.0,364.1 L319.5,366.0 L320.1,367.9 L320.6,369.8 L321.2,371.7 L321.7,373.6 L322.3,375.4 L322.9,377.3 L323.5,379.2 L324.0,381.1 L324.6,383.0 L325.2,384.9 L325.7,386.8 L326.3,388.6 L326.9,390.5 L327.4,392.4 L328.0,394.3 L328.5,396.2 L329.1,398.1 L329.5,400.0 L330.0,401.9 L330.4,403.9 L330.9,405.8 L331.3,407.8 L331.6,409.7 L332.0,411.7 L332.4,413.6 L332.8,415.6 L333.2,417.5 L333.6,419.5 L334.0,421.4 L334.3,423.4 L334.7,425.3 L335.1,427.3 L335.5,429.2 L335.9,431.2 L336.3,433.1 L336.6,435.1 L337.0,437.0 L337.4,438.9 L337.8,440.9 L338.2,442.8 L338.6,444.8 L339.0,446.7 L339.4,448.7 L339.8,450.6 L340.2,452.6 L340.6,454.5 L340.9,456.5 L341.3,458.4 L341.7,460.4 L342.1,462.3 L342.5,464.3 L342.9,466.2 L343.3,468.1 L343.7,470.1 L344.1,472.0 L344.5,474.0 L344.9,475.9 L345.3,477.9 L345.7,479.8 L346.1,481.8 L346.5,483.7 L346.9,485.7 L347.3,487.6 L347.7,489.6 L348.1,491.5 L348.5,493.4 L348.9,495.4 L349.2,497.3 L349.6,499.3 L350.0,501.2 L350.4,503.2 L350.8,505.1 L351.2,507.1 L351.6,509.0 L352.0,511.0 L352.4,512.9 L352.8,514.9 L353.2,516.8 L353.6,518.7 L354.0,520.7 L354.4,522.6 L354.8,524.6 L355.2,526.5 L355.6,528.5 L356.0,530.4 L356.4,532.4 L356.8,534.3 L357.1,536.3 L357.5,538.2 L357.9,540.2 L358.3,542.1 L358.7,544.0 L359.1,546.0 L359.5,547.9 L359.9,549.9 L360.3,551.8 L360.7,553.8 L361.1,555.7 L361.5,557.7 L361.9,559.6 L362.3,561.6 L362.7,563.5 L363.1,565.5 L363.4,567.4 L363.8,569.4 L364.2,571.3 L364.6,573.2 L365.1,575.2 L365.5,577.1 L365.9,579.1 L366.3,581.0 L366.8,582.9 L367.3,584.8 L367.8,586.7 L368.3,588.6 L368.9,590.5 L369.6,592.3 L370.3,594.1 L371.0,595.9 L371.8,597.7 L372.6,599.4 L373.5,601.2 L374.4,602.9 L375.2,604.6 L376.1,606.3 L377.0,608.0 L378.0,609.7 L378.9,611.3 L379.9,613.0 L380.9,614.6 L381.8,616.3 L382.8,618.0 L383.7,619.6 L384.7,621.3 L385.5,623.0 L386.3,624.8 L387.2,626.5 L388.0,628.3 L388.8,630.0 L389.6,631.8 L390.4,633.5 L391.3,635.3 L392.2,637.0 L393.1,638.7 L394.0,640.4 L394.8,642.1 L395.7,643.8 L396.6,645.6 L397.4,647.3 L398.3,649.0 L399.2,650.7 L400.0,652.5 L400.9,654.2 L401.7,656.0 L402.5,657.8 L403.2,659.5 L404.0,661.3 L404.8,663.1 L405.5,664.9 L406.3,666.7 L407.0,668.5 L407.8,670.3 L408.6,672.1 L409.3,673.9 L410.1,675.6 L410.9,677.4 L411.6,679.3 L412.3,681.1 L413.0,682.9 L413.7,684.7 L414.5,686.5 L415.2,688.3 L416.0,690.1 L416.9,691.8 L417.7,693.5 L418.6,695.3 L419.4,697.0 L420.8,698.1 L422.3,699.2 L423.7,700.2 L425.3,700.5 L426.9,699.8 L428.5,699.1 L430.1,698.4 L431.7,697.7 L433.0,696.7 L433.8,694.9 L434.6,693.1 L435.3,691.3 L436.1,689.6 L436.9,687.8 L437.6,686.0 L438.4,684.2 L439.1,682.4 L439.9,680.6 L440.7,678.8 L441.5,677.0 L442.3,675.3 L443.1,673.6 L444.0,671.8 L444.8,670.1 L445.6,668.3 L446.3,666.5 L446.8,664.6 L447.3,662.7 L447.8,660.7 L448.3,658.8 L448.8,656.9 L449.3,655.0 L449.7,653.1 L450.2,651.1 L450.6,649.2 L451.1,647.3 L451.5,645.4 L452.0,643.4 L452.5,641.5 L453.0,639.6 L453.5,637.7 L454.0,635.8 L454.5,633.9 L455.0,632.0 L455.5,630.0 L456.0,628.1 L456.6,626.2 L457.1,624.4 L457.8,622.5 L458.4,620.6 L459.0,618.8 L459.7,616.9 L460.3,615.1 L461.0,613.2 L461.6,611.4 L462.3,609.5 L462.9,607.7 L463.5,605.8 L464.2,604.0 L464.7,602.1 L465.3,600.2 L465.8,598.3 L466.3,596.4 L466.9,594.5 L467.3,592.6 L467.8,590.6 L468.3,588.7 L468.8,586.8 L469.2,584.9 L469.6,582.9 L470.0,581.0 L470.3,579.0 L470.7,577.1 L471.0,575.1 L471.3,573.1 L471.6,571.2 L471.9,569.2 L472.2,567.2 L472.6,565.3 L472.9,563.3 L473.2,561.3 L473.6,559.4 L474.0,557.4 L474.4,555.5 L474.9,553.6 L475.4,551.7 L476.0,549.9 L476.6,548.0 L477.2,546.1 L477.9,544.3 L478.5,542.4 L479.2,540.6 L479.8,538.7 L480.5,536.9 L481.1,535.0 L481.6,533.1 L482.2,531.2 L482.7,529.3 L483.1,527.4 L483.6,525.5 L484.0,523.5 L484.5,521.6 L484.9,519.7 L485.3,517.7 L485.7,515.8 L486.2,513.9 L486.6,511.9 L487.1,510.0 L487.6,508.1 L488.2,506.2 L488.7,504.3 L489.2,502.4 L489.8,500.5 L490.4,498.6 L490.9,496.8 L491.5,494.9 L492.0,493.0 L492.6,491.1 L493.2,489.2 L493.7,487.3 L494.3,485.4 L494.9,483.5 L495.4,481.6 L496.0,479.8 L496.6,477.9 L497.1,476.0 L497.7,474.1 L498.3,472.2 L498.8,470.3 L499.4,468.5 L500.0,466.6 L500.7,464.8 L501.4,462.9 L502.1,461.2 L502.9,459.4 L503.8,457.7 L504.7,456.0 L505.6,454.3 L506.5,452.6 L507.4,450.9 L508.3,449.2 L509.2,447.5 L510.1,445.8 L511.1,444.1 L512.0,442.5 L513.0,440.9 L514.0,439.2 L515.0,437.6 L516.1,436.0 L517.1,434.4 L518.1,432.8 L519.1,431.2 L520.2,429.7 L521.3,428.1 L522.4,426.6 L523.5,425.2 L524.7,423.8 L526.0,422.5 L527.3,421.2 L528.7,420.0 L530.0,418.8 L531.4,417.7 L532.8,416.5 L534.2,415.4 L535.7,414.4 L537.2,413.4 L538.7,412.6 L540.2,411.9 L541.8,411.3 L543.5,410.9 L545.1,410.5 L546.8,410.3 L548.5,410.2 L550.2,410.1 L551.9,410.0 L553.6,410.1 L555.3,410.1 L557.0,410.3 L558.6,410.5 L560.2,411.0 L561.8,411.5 L563.3,412.3 L564.8,413.2 L566.2,414.2 L567.6,415.3 L569.0,416.5 L570.2,417.8 L571.5,419.1 L572.7,420.5 L573.8,422.0 L575.0,423.5 L576.1,425.0 L577.2,426.5 L578.3,428.1 L579.3,429.7 L580.3,431.3 L581.3,432.9 L582.3,434.5 L583.3,436.1 L584.3,437.7 L585.3,439.4 L586.3,441.0 L587.2,442.7 L588.2,444.3 L589.2,446.0 L590.1,447.7 L591.1,449.3 L592.0,451.0 L592.9,452.7 L593.9,454.3 L594.8,456.0 L595.7,457.7 L596.6,459.4 L597.5,461.1 L598.3,462.9 L599.2,464.6 L600.1,466.3 L601.0,468.0 L601.8,469.7 L602.7,471.5 L603.6,473.2 L604.4,474.9 L605.3,476.6 L606.1,478.4 L607.0,480.1 L607.8,481.9 L608.7,483.6 L609.5,485.3 L610.3,487.1 L611.2,488.8 L612.0,490.6 L612.8,492.3 L613.6,494.1 L614.4,495.9 L615.1,497.7 L615.8,499.5 L616.5,501.4 L617.1,503.2 L617.7,505.1 L618.4,506.9 L619.0,508.8 L619.6,510.7 L620.2,512.5 L620.9,514.4 L621.6,516.2 L622.3,518.0 L623.0,519.8 L623.8,521.6 L624.5,523.4 L625.2,525.2 L626.0,527.0 L626.7,528.8 L627.5,530.6 L628.2,532.4 L628.8,534.3 L629.5,536.1 L630.1,538.0 L630.7,539.8 L631.4,541.7 L632.0,543.6 L632.6,545.4 L633.2,547.3 L633.8,549.2 L634.4,551.0 L635.1,552.9 L635.7,554.7 L636.4,556.6 L637.0,558.4 L637.7,560.3 L638.3,562.1 L639.0,564.0 L639.6,565.8 L640.2,567.7 L640.8,569.6 L641.3,571.5 L641.9,573.4 L642.4,575.3 L642.9,577.2 L643.4,579.1 L644.0,581.0 L644.5,582.9 L645.1,584.8 L645.6,586.7 L646.2,588.5 L646.9,590.4 L647.5,592.2 L648.2,594.1 L648.9,595.9 L649.5,597.8 L650.2,599.6 L650.9,601.4 L651.6,603.2 L652.4,605.0 L653.1,606.8 L653.9,608.6 L654.7,610.3 L655.6,612.1 L656.4,613.8 L657.3,615.5 L658.1,617.3 L659.0,619.0 L659.8,620.8 L660.6,622.5 L661.4,624.3 L662.1,626.1 L662.8,627.9 L663.5,629.8 L664.2,631.6 L664.9,633.4 L665.6,635.2 L666.3,637.0 L667.0,638.9 L667.7,640.7 L668.4,642.5 L669.1,644.3 L669.7,646.2 L670.2,648.1 L670.7,650.0 L671.1,651.9 L671.6,653.8 L672.0,655.8 L672.4,657.7 L672.9,659.6 L673.4,661.5 L674.0,663.3 L674.7,665.2 L675.4,667.0 L676.2,668.8 L676.9,670.5 L677.7,672.3 L678.5,674.1 L679.3,675.9 L680.0,677.7 L680.7,679.5 L681.3,681.3 L681.9,683.2 L682.5,685.1 L683.0,687.0 L683.5,688.9 L684.1,690.8 L684.6,692.7 L685.2,694.5 L685.9,696.4 L686.6,698.2 L687.3,700.0 L688.1,701.8 L688.9,703.5 L689.7,705.3 L690.5,707.0 L691.4,708.8 L692.2,710.5 L693.1,712.3 L693.9,714.0 L694.8,715.7 L695.6,717.4 L696.5,719.2 L697.3,720.9 L698.1,722.7 L698.9,724.5 L699.6,726.3 L700.3,728.1 L701.0,729.9 L701.7,731.8 L702.3,733.6 L703.1,735.4 L703.8,737.2 L704.6,738.9 L705.4,740.7 L706.3,742.4 L707.2,744.1 L708.0,745.9 L708.9,747.6 L709.8,749.3 L710.8,750.9 L711.7,752.6 L712.7,754.2 L713.7,755.9 L714.7,757.5 L715.7,759.1 L716.7,760.7 L717.7,762.3 L718.7,763.9 L719.6,765.6 L720.5,767.3 L721.4,769.0 L722.3,770.7 L723.2,772.4 L724.1,774.1 L725.0,775.8 L725.9,777.5 L726.8,779.2 L727.6,780.9 L728.5,782.7 L729.4,784.4 L730.2,786.1 L731.1,787.8 L732.0,789.6 L732.9,791.2 L733.8,792.9 L734.8,794.5 L735.8,796.1 L736.9,797.7 L738.0,799.2 L739.1,800.7 L740.3,802.1 L741.6,803.4 L742.8,804.8 L744.1,806.1 L745.5,807.3 L746.8,808.6 L748.1,809.8 L749.4,811.1 L750.7,812.4 L752.0,813.7 L753.3,815.1 L754.5,816.4 L755.7,817.9 L756.9,819.3 L758.1,820.7 L759.3,822.1 L760.5,823.5 L761.8,824.9 L763.0,826.3 L764.2,827.7 L765.4,829.1 L766.6,830.5 L767.9,831.9 L769.2,833.2 L770.4,834.5 L771.8,835.8 L773.1,837.1 L774.4,838.4 L775.7,839.6 L777.1,840.8 L778.4,842.1 L779.8,843.3 L781.1,844.5 L782.5,845.6 L783.9,846.8 L785.3,848.0 L786.7,849.1 L788.2,850.2 L789.6,851.3 L791.0,852.3 L792.5,853.3 L794.0,854.3 L795.5,855.2 L797.1,856.1 L798.6,857.0 L800.1,857.8 L801.7,858.6 L803.3,859.4 L804.9,860.1 L806.5,860.8 L808.1,861.5 L809.7,862.2 L811.3,862.9 L812.9,863.5 L814.5,864.2 L816.1,865.0 L817.6,865.7 L819.2,866.6 L820.7,867.4 L822.2,868.4 L823.6,869.4 L825.1,870.3 L826.6,871.2 L828.2,872.1 L829.7,873.0 L831.3,873.8 L832.8,874.5 L834.4,875.2 L836.1,875.8 L837.7,876.4 L839.3,877.0 L841.0,877.5 L842.6,878.1 L844.3,878.6 L845.9,879.1 L847.6,879.6 L849.2,880.2 L850.9,880.6 L852.5,881.1 L854.2,881.6 L855.9,882.0 L857.5,882.3 L859.2,882.7 L860.9,883.0 L862.6,883.2 L864.3,883.5 L866.0,883.8 L867.7,884.0 L869.4,884.3 L871.1,884.7 L872.8,885.0 L874.4,885.3 L876.1,885.6 L877.8,885.9 L879.5,886.2 L881.2,886.4 L882.9,886.5 L884.6,886.7 L886.3,886.8 L888.0,887.0 L889.7,887.1 L891.4,887.3 L893.1,887.6 L894.8,887.8 L896.5,888.1 L898.2,888.5 L899.9,888.8 L901.5,889.1 L903.2,889.4 L904.9,889.7 L906.6,890.0 L908.3,890.2 L910.0,890.4 L911.7,890.6 L913.4,890.8 L915.1,890.9 L916.8,891.0 L918.5,891.1 L920.2,891.2 L921.9,891.3 L923.6,891.4 L925.4,891.5 L927.1,891.6 L928.8,891.7 L930.5,891.8 L932.2,891.8 L933.9,891.9 L935.6,891.9 L937.3,891.9 L939.0,891.9 L940.7,892.0 L942.4,892.0 L944.2,892.0 L945.9,892.0 L947.6,892.0 L949.3,892.0 L951.0,892.0 L952.7,892.0 L954.4,892.0 L956.1,892.0 L957.8,892.0 L959.5,892.0 L961.3,892.0 L963.0,892.0 L964.7,892.1 L966.4,892.1 L968.1,892.1 L969.8,892.1 L971.5,892.1 L973.2,892.1 L974.9,892.1 L976.6,892.1 L978.3,892.1 L980.1,892.1 L981.8,892.1 L983.5,892.1 L985.2,892.1 L986.9,892.1 L988.6,892.2 L990.3,892.2 L992.0,892.2 L993.7,892.3 L995.4,892.4 L997.1,892.6 L998.8,892.8 L1000.5,893.0 L1002.2,893.3 L1003.9,893.6 L1005.6,893.8 L1007.3,894.0 L1009.0,894.2 L1010.7,894.3 L1012.4,894.4 L1014.1,894.4 L1015.8,894.5 L1017.5,894.5 L1019.2,894.6 L1020.9,894.6 L1022.6,894.7 L1024.4,894.7 L1026.1,894.8 L1027.8,894.8 L1029.5,894.8 L1031.2,894.9 L1032.9,894.9 L1034.6,894.9 L1036.3,894.9 L1038.0,894.9 L1039.7,894.9 L1041.4,894.9 L1043.2,894.9 L1044.9,894.9 L1046.6,894.9 L1048.3,894.8 L1050.0,894.8 L1051.7,894.8 L1053.4,894.8 L1055.1,894.8 L1056.8,894.8 L1058.5,894.8 L1060.3,894.8 L1062.0,894.8 L1063.7,894.8 L1065.4,894.8 L1067.1,894.8 L1068.8,894.7 L1070.5,894.7 L1072.2,894.7"/>
<path d="M265.0,126.0 L265.5,127.9 L266.1,129.8 L266.6,131.7 L267.2,133.6 L267.7,135.5 L268.3,137.4 L268.8,139.3 L269.4,141.1 L269.9,143.0 L270.5,144.9 L271.0,146.8 L271.6,148.7 L272.1,150.6 L272.7,152.5 L273.2,154.4 L273.8,156.3 L274.3,158.2 L274.9,160.1 L275.4,162.0 L276.0,163.9 L276.5,165.8 L277.1,167.7 L277.6,169.6 L278.1,171.5 L278.7,173.4 L279.2,175.3 L279.7,177.2 L280.2,179.1 L280.7,181.0 L281.2,182.9 L281.7,184.8 L282.2,186.7 L282.8,188.6 L283.3,190.6 L283.8,192.5 L284.3,194.4 L284.8,196.3 L285.3,198.2 L285.8,200.1 L286.4,202.0 L286.9,203.9 L287.4,205.8 L287.9,207.7 L288.4,209.6 L288.9,211.5 L289.4,213.5 L289.9,215.4 L290.4,217.3 L290.9,219.2 L291.5,221.1 L292.0,223.0 L292.5,224.9 L293.0,226.8 L293.5,228.7 L294.0,230.7 L294.5,232.6 L295.0,234.5 L295.5,236.4 L296.0,238.3 L296.5,240.2 L297.0,242.1 L297.6,244.0 L298.1,245.9 L298.6,247.8 L299.1,249.7 L299.6,251.7 L300.1,253.6 L300.7,255.5 L301.2,257.4 L301.7,259.3 L302.2,261.2 L302.7,263.1 L303.3,265.0 L303.8,266.9 L304.3,268.8 L304.8,270.7 L305.4,272.6 L305.9,274.5 L306.4,276.4 L306.9,278.3 L307.4,280.2 L308.0,282.1 L308.5,284.0 L309.0,286.0 L309.4,287.9 L309.9,289.8 L310.3,291.7 L310.8,293.7 L311.2,295.6 L311.7,297.5 L312.1,299.5 L312.5,301.4 L312.9,303.4 L313.4,305.3 L313.8,307.2 L314.2,309.2 L314.7,311.1 L315.1,313.0 L315.5,315.0 L315.9,316.9 L316.4,318.8 L316.8,320.8 L317.2,322.7 L317.7,324.6 L318.1,326.6 L318.6,328.5 L319.0,330.4 L319.5,332.4 L319.9,334.3 L320.3,336.2 L320.8,338.2 L321.2,340.1 L321.7,342.0 L322.1,344.0 L322.6,345.9 L323.0,347.8 L323.5,349.8 L323.9,351.7 L324.4,353.6 L324.8,355.5 L325.3,357.5 L325.8,359.4 L326.3,361.3 L326.8,363.2 L327.3,365.1 L327.8,367.0 L328.3,368.9 L328.9,370.8 L329.4,372.7 L330.0,374.6 L330.5,376.5 L331.0,378.4 L331.6,380.3 L332.1,382.2 L332.7,384.1 L333.2,386.0 L333.7,387.9 L334.3,389.8 L334.8,391.7 L335.3,393.6 L335.9,395.5 L336.4,397.4 L336.8,399.3 L337.3,401.3 L337.7,403.2 L338.1,405.2 L338.5,407.1 L338.8,409.1 L339.2,411.0 L339.5,413.0 L339.9,414.9 L340.2,416.9 L340.6,418.8 L341.0,420.8 L341.3,422.8 L341.7,424.7 L342.0,426.7 L342.4,428.6 L342.7,430.6 L343.1,432.5 L343.4,434.5 L343.8,436.5 L344.2,438.4 L344.5,440.4 L344.9,442.3 L345.3,444.3 L345.6,446.2 L346.0,448.2 L346.4,450.1 L346.8,452.1 L347.1,454.0 L347.5,456.0 L347.9,457.9 L348.3,459.9 L348.6,461.8 L349.0,463.8 L349.4,465.7 L349.8,467.7 L350.1,469.7 L350.5,471.6 L350.9,473.6 L351.3,475.5 L351.7,477.4 L352.1,479.4 L352.5,481.3 L352.9,483.3 L353.4,485.2 L353.8,487.1 L354.3,489.1 L354.7,491.0 L355.2,492.9 L355.6,494.8 L356.1,496.8 L356.5,498.7 L357.0,500.6 L357.4,502.6 L357.9,504.5 L358.3,506.4 L358.8,508.4 L359.3,510.3 L359.7,512.2 L360.2,514.1 L360.6,516.1 L361.1,518.0 L361.5,519.9 L362.0,521.9 L362.4,523.8 L362.9,525.7 L363.4,527.6 L363.8,529.6 L364.3,531.5 L364.7,533.4 L365.2,535.3 L365.7,537.3 L366.1,539.2 L366.6,541.1 L367.1,543.0 L367.5,545.0 L368.0,546.9 L368.4,548.8 L368.9,550.8 L369.4,552.7 L369.8,554.6 L370.3,556.5 L370.8,558.5 L371.2,560.4 L371.7,562.3 L372.2,564.2 L372.6,566.1 L373.1,568.1 L373.6,570.0 L374.1,571.9 L374.5,573.8 L375.0,575.8 L375.5,577.7 L376.0,579.6 L376.5,581.5 L377.0,583.4 L377.4,585.3 L377.9,587.3 L378.4,589.2 L378.9,591.1 L379.4,593.0 L379.9,594.9 L380.4,596.8 L381.0,598.7 L381.5,600.6 L382.2,602.4 L382.9,604.3 L383.6,606.1 L384.3,607.9 L385.0,609.8 L385.7,611.6 L386.4,613.4 L387.1,615.2 L387.8,617.1 L388.5,618.9 L389.2,620.7 L389.9,622.5 L390.6,624.3 L391.4,626.1 L392.1,628.0 L392.8,629.8 L393.5,631.6 L394.3,633.4 L395.0,635.2 L395.7,637.0 L396.4,638.8 L397.1,640.7 L397.8,642.5 L398.5,644.3 L399.2,646.1 L399.9,648.0 L400.6,649.8 L401.3,651.6 L402.0,653.5 L402.7,655.3 L403.5,657.0 L404.3,658.8 L405.1,660.6 L405.9,662.3 L406.7,664.1 L407.6,665.8 L408.4,667.6 L409.2,669.3 L410.2,671.0 L411.1,672.7 L412.0,674.4 L412.9,676.1 L413.7,677.9 L414.5,679.6 L415.3,681.4 L416.0,683.2 L417.2,683.4 L418.6,682.2 L419.9,681.0 L421.3,679.9 L422.7,678.7 L423.8,677.3 L424.5,675.5 L425.2,673.6 L425.9,671.8 L426.5,669.9 L427.2,668.1 L427.9,666.3 L428.6,664.4 L429.2,662.6 L429.9,660.8 L430.7,659.0 L431.5,657.2 L432.2,655.4 L433.0,653.6 L433.8,651.8 L434.2,649.9 L434.6,647.9 L435.0,646.0 L435.5,644.1 L435.9,642.1 L436.4,640.2 L436.8,638.3 L437.3,636.4 L437.8,634.5 L438.3,632.5 L438.8,630.6 L439.3,628.7 L439.8,626.8 L440.3,624.9 L440.8,623.0 L441.3,621.0 L441.8,619.1 L442.3,617.2 L442.8,615.3 L443.2,613.4 L443.6,611.4 L444.1,609.5 L444.5,607.6 L445.0,605.6 L445.4,603.7 L445.8,601.8 L446.3,599.8 L446.7,597.9 L447.2,596.0 L447.6,594.0 L448.1,592.1 L448.5,590.2 L448.9,588.2 L449.3,586.3 L449.6,584.3 L450.0,582.4 L450.3,580.4 L450.6,578.4 L451.0,576.5 L451.3,574.5 L451.6,572.5 L452.0,570.6 L452.3,568.6 L452.7,566.7 L453.0,564.7 L453.4,562.8 L453.8,560.8 L454.2,558.9 L454.7,557.0 L455.2,555.1 L455.7,553.2 L456.2,551.3 L456.8,549.4 L457.3,547.5 L457.9,545.6 L458.4,543.7 L458.9,541.8 L459.5,539.9 L460.0,538.0 L460.6,536.1 L461.1,534.2 L461.6,532.3 L462.2,530.4 L462.7,528.5 L463.3,526.6 L463.8,524.7 L464.4,522.8 L464.9,520.9 L465.4,519.0 L466.0,517.1 L466.5,515.2 L467.1,513.3 L467.6,511.4 L468.1,509.5 L468.6,507.6 L469.1,505.7 L469.5,503.7 L469.9,501.8 L470.2,499.8 L470.6,497.9 L470.9,495.9 L471.2,493.9 L471.5,492.0 L471.8,490.0 L472.1,488.0 L472.4,486.1 L472.6,484.1 L472.9,482.1 L473.3,480.1 L473.6,478.2 L473.9,476.2 L474.3,474.3 L474.8,472.4 L475.3,470.5 L475.8,468.6 L476.3,466.7 L476.9,464.8 L477.5,462.9 L478.0,461.0 L478.6,459.1 L479.2,457.2 L479.8,455.4 L480.4,453.5 L480.9,451.6 L481.5,449.7 L482.1,447.8 L482.7,446.0 L483.3,444.1 L483.9,442.2 L484.4,440.3 L485.0,438.4 L485.6,436.6 L486.2,434.7 L486.8,432.8 L487.4,430.9 L488.0,429.1 L488.6,427.2 L489.2,425.3 L489.8,423.4 L490.4,421.6 L491.0,419.7 L491.6,417.8 L492.2,415.9 L492.8,414.1 L493.4,412.2 L494.0,410.3 L494.6,408.5 L495.3,406.6 L495.9,404.8 L496.5,402.9 L497.2,401.0 L497.8,399.2 L498.5,397.3 L499.1,395.5 L499.8,393.7 L500.5,391.9 L501.3,390.1 L502.2,388.4 L503.1,386.7 L504.0,385.1 L505.0,383.4 L506.0,381.8 L507.0,380.2 L508.1,378.6 L509.1,377.0 L510.1,375.4 L511.1,373.8 L512.2,372.2 L513.3,370.7 L514.3,369.1 L515.4,367.6 L516.5,366.0 L517.6,364.5 L518.7,363.0 L519.8,361.5 L521.0,360.0 L522.1,358.5 L523.2,357.0 L524.4,355.5 L525.6,354.1 L526.8,352.8 L528.1,351.4 L529.4,350.2 L530.8,349.0 L532.1,347.8 L533.5,346.8 L535.0,345.9 L536.5,345.2 L538.1,344.7 L539.7,344.4 L541.3,344.2 L543.0,344.2 L544.6,344.3 L546.3,344.6 L547.9,345.0 L549.6,345.5 L551.2,346.1 L552.7,346.8 L554.3,347.6 L555.8,348.4 L557.4,349.3 L558.9,350.3 L560.3,351.3 L561.8,352.3 L563.2,353.4 L564.6,354.6 L565.9,355.8 L567.2,357.1 L568.4,358.4 L569.6,359.8 L570.7,361.3 L571.8,362.9 L572.8,364.5 L573.8,366.1 L574.8,367.7 L575.8,369.3 L576.8,371.0 L577.8,372.6 L578.7,374.2 L579.7,375.9 L580.6,377.6 L581.6,379.3 L582.5,380.9 L583.4,382.6 L584.3,384.3 L585.2,386.0 L586.1,387.7 L587.0,389.4 L587.9,391.1 L588.7,392.9 L589.6,394.6 L590.4,396.4 L591.2,398.1 L592.1,399.9 L592.9,401.6 L593.7,403.4 L594.5,405.1 L595.3,406.9 L596.1,408.7 L596.9,410.4 L597.7,412.2 L598.5,414.0 L599.3,415.7 L600.1,417.5 L601.0,419.3 L601.8,421.0 L602.6,422.7 L603.5,424.5 L604.3,426.2 L605.1,428.0 L606.0,429.7 L606.8,431.5 L607.6,433.2 L608.4,435.0 L609.2,436.8 L610.0,438.6 L610.7,440.4 L611.5,442.1 L612.3,443.9 L613.0,445.7 L613.8,447.5 L614.6,449.3 L615.3,451.1 L616.0,452.9 L616.7,454.7 L617.4,456.6 L618.1,458.4 L618.7,460.3 L619.3,462.1 L620.0,464.0 L620.6,465.9 L621.2,467.7 L621.8,469.6 L622.4,471.4 L623.1,473.3 L623.7,475.1 L624.4,477.0 L625.1,478.8 L625.8,480.7 L626.4,482.5 L627.1,484.3 L627.8,486.2 L628.5,488.0 L629.1,489.8 L629.8,491.7 L630.4,493.6 L630.9,495.5 L631.5,497.3 L632.0,499.2 L632.5,501.2 L633.0,503.1 L633.5,505.0 L634.0,506.9 L634.5,508.8 L635.0,510.7 L635.6,512.6 L636.1,514.5 L636.7,516.4 L637.3,518.2 L637.9,520.1 L638.6,522.0 L639.2,523.8 L639.9,525.7 L640.5,527.5 L641.2,529.4 L641.9,531.2 L642.5,533.0 L643.2,534.9 L643.8,536.7 L644.5,538.6 L645.1,540.4 L645.7,542.3 L646.4,544.2 L647.0,546.0 L647.6,547.9 L648.2,549.8 L648.8,551.7 L649.4,553.5 L650.0,555.4 L650.6,557.2 L651.3,559.1 L652.0,560.9 L652.7,562.7 L653.4,564.5 L654.2,566.3 L654.9,568.1 L655.7,569.9 L656.4,571.7 L657.2,573.5 L657.9,575.3 L658.5,577.2 L659.1,579.0 L659.7,580.9 L660.2,582.8 L660.8,584.7 L661.3,586.6 L661.7,588.5 L662.2,590.5 L662.7,592.4 L663.2,594.3 L663.8,596.2 L664.3,598.1 L664.9,600.0 L665.5,601.8 L666.2,603.7 L666.8,605.5 L667.5,607.4 L668.2,609.2 L668.9,611.0 L669.5,612.9 L670.2,614.7 L670.9,616.5 L671.6,618.3 L672.3,620.2 L673.0,622.0 L673.7,623.8 L674.5,625.6 L675.2,627.4 L675.9,629.3 L676.6,631.1 L677.3,632.9 L678.0,634.7 L678.7,636.6 L679.3,638.4 L680.0,640.3 L680.6,642.1 L681.2,644.0 L681.8,645.9 L682.4,647.7 L683.0,649.6 L683.6,651.5 L684.2,653.4 L684.7,655.3 L685.3,657.2 L685.8,659.1 L686.3,660.9 L686.9,662.8 L687.6,664.6 L688.3,666.4 L689.1,668.1 L690.0,669.8 L690.9,671.5 L691.8,673.2 L692.7,674.8 L693.5,676.6 L694.2,678.3 L694.9,680.1 L695.5,682.0 L696.0,683.9 L696.5,685.8 L697.0,687.7 L697.5,689.6 L698.0,691.5 L698.6,693.4 L699.2,695.3 L699.8,697.1 L700.5,698.9 L701.2,700.7 L702.0,702.5 L702.7,704.3 L703.5,706.1 L704.3,707.9 L705.1,709.6 L705.9,711.4 L706.8,713.1 L707.6,714.9 L708.5,716.6 L709.3,718.4 L710.1,720.1 L710.9,721.9 L711.7,723.6 L712.4,725.4 L713.1,727.3 L713.8,729.1 L714.4,731.0 L715.0,732.8 L715.6,734.7 L716.2,736.6 L716.8,738.4 L717.4,740.3 L718.1,742.1 L718.9,743.9 L719.7,745.7 L720.5,747.4 L721.4,749.1 L722.2,750.8 L723.1,752.5 L724.0,754.2 L725.0,755.9 L725.9,757.6 L726.9,759.2 L727.8,760.9 L728.8,762.5 L729.7,764.2 L730.6,765.9 L731.5,767.6 L732.3,769.4 L733.0,771.2 L733.7,773.0 L734.5,774.8 L735.2,776.5 L736.0,778.3 L736.9,780.0 L737.8,781.6 L738.8,783.2 L739.8,784.8 L740.8,786.4 L741.8,788.0 L742.8,789.6 L743.8,791.3 L744.7,793.0 L745.6,794.7 L746.4,796.4 L747.3,798.1 L748.2,799.8 L749.1,801.4 L750.2,803.0 L751.2,804.5 L752.4,806.0 L753.6,807.4 L754.8,808.8 L756.0,810.2 L757.2,811.6 L758.5,813.0 L759.7,814.3 L761.0,815.7 L762.2,817.0 L763.5,818.4 L764.7,819.8 L766.0,821.2 L767.2,822.6 L768.3,824.0 L769.5,825.5 L770.7,826.9 L771.9,828.3 L773.1,829.7 L774.4,831.0 L775.7,832.3 L777.0,833.5 L778.4,834.7 L779.8,835.9 L781.2,837.0 L782.6,838.2 L784.0,839.3 L785.4,840.5 L786.8,841.6 L788.2,842.8 L789.6,843.9 L791.0,845.1 L792.4,846.2 L793.8,847.3 L795.2,848.4 L796.7,849.5 L798.1,850.5 L799.6,851.6 L801.1,852.6 L802.5,853.6 L804.0,854.6 L805.5,855.5 L807.1,856.4 L808.6,857.2 L810.2,858.0 L811.7,858.8 L813.3,859.6 L814.9,860.3 L816.5,861.1 L818.0,862.0 L819.5,862.8 L821.0,863.7 L822.5,864.7 L824.0,865.7 L825.5,866.6 L827.0,867.6 L828.5,868.5 L830.0,869.4 L831.6,870.2 L833.2,871.0 L834.8,871.7 L836.4,872.4 L838.0,873.1 L839.6,873.7 L841.2,874.3 L842.9,874.9 L844.5,875.5 L846.1,876.1 L847.7,876.7 L849.4,877.3 L851.0,877.8 L852.7,878.4 L854.3,878.9 L856.0,879.3 L857.7,879.7 L859.3,880.1 L861.0,880.4 L862.7,880.6 L864.4,880.9 L866.1,881.2 L867.8,881.5 L869.5,881.8 L871.1,882.2 L872.8,882.6 L874.5,882.9 L876.2,883.3 L877.9,883.6 L879.5,883.9 L881.2,884.2 L882.9,884.3 L884.6,884.5 L886.3,884.7 L888.0,884.8 L889.7,885.0 L891.4,885.2 L893.1,885.5 L894.8,885.7 L896.5,886.0 L898.2,886.4 L899.9,886.7 L901.6,887.0 L903.3,887.4 L904.9,887.7 L906.6,888.0 L908.3,888.3 L910.0,888.6 L911.7,888.8 L913.4,889.0 L915.1,889.1 L916.8,889.2 L918.5,889.3 L920.2,889.4 L921.9,889.5 L923.6,889.6 L925.4,889.7 L927.1,889.8 L928.8,889.9 L930.5,890.0 L932.2,890.0 L933.9,890.1 L935.6,890.1 L937.3,890.2 L939.0,890.2 L940.7,890.2 L942.4,890.2 L944.2,890.2 L945.9,890.3 L947.6,890.3 L949.3,890.3 L951.0,890.3 L952.7,890.3 L954.4,890.3 L956.1,890.3 L957.8,890.3 L959.5,890.4 L961.3,890.4 L963.0,890.4 L964.7,890.4 L966.4,890.4 L968.1,890.4 L969.8,890.4 L971.5,890.4 L973.2,890.5 L974.9,890.5 L976.6,890.5 L978.4,890.5 L980.1,890.5 L981.8,890.5 L983.5,890.5 L985.2,890.5 L986.9,890.6 L988.6,890.6 L990.3,890.6 L992.0,890.6 L993.7,890.7 L995.4,890.8 L997.1,891.0 L998.8,891.2 L1000.5,891.5 L1002.2,891.8 L1003.9,892.1 L1005.6,892.3 L1007.3,892.5 L1009.0,892.7 L1010.7,892.8 L1012.4,892.9 L1014.1,893.0 L1015.8,893.1 L1017.5,893.1 L1019.2,893.2 L1020.9,893.2 L1022.6,893.3 L1024.3,893.3 L1026.1,893.4 L1027.8,893.4 L1029.5,893.4 L1031.2,893.5 L1032.9,893.5 L1034.6,893.5 L1036.3,893.5 L1038.0,893.5 L1039.7,893.5 L1041.4,893.5 L1043.2,893.5 L1044.9,893.5 L1046.6,893.5 L1048.3,893.5 L1050.0,893.5 L1051.7,893.4 L1053.4,893.4 L1055.1,893.4 L1056.8,893.4 L1058.5,893.4 L1060.3,893.4 L1062.0,893.4 L1063.7,893.4 L1065.4,893.4 L1067.1,893.4 L1068.8,893.4 L1070.5,893.4 L1072.2,893.4"/>
<path d="M266.7,126.0 L267.2,127.9 L267.8,129.8 L268.4,131.7 L268.9,133.5 L269.5,135.4 L270.1,137.3 L270.7,139.2 L271.2,141.1 L271.8,143.0 L272.4,144.9 L272.9,146.8 L273.5,148.6 L274.1,150.5 L274.6,152.4 L275.2,154.3 L275.8,156.2 L276.3,158.1 L276.9,160.0 L277.5,161.9 L278.0,163.8 L278.6,165.6 L279.1,167.5 L279.7,169.4 L280.2,171.4 L280.7,173.3 L281.2,175.2 L281.7,177.1 L282.2,179.0 L282.6,180.9 L283.1,182.9 L283.6,184.8 L284.1,186.7 L284.6,188.6 L285.1,190.5 L285.6,192.4 L286.1,194.4 L286.6,196.3 L287.0,198.2 L287.5,200.1 L288.0,202.0 L288.5,204.0 L289.0,205.9 L289.5,207.8 L290.0,209.7 L290.5,211.6 L291.0,213.5 L291.4,215.5 L291.9,217.4 L292.4,219.3 L292.9,221.2 L293.4,223.1 L293.9,225.0 L294.4,227.0 L294.9,228.9 L295.4,230.8 L295.9,232.7 L296.4,234.6 L296.9,236.5 L297.4,238.5 L297.9,240.4 L298.4,242.3 L298.9,244.2 L299.4,246.1 L299.9,248.0 L300.4,249.9 L300.9,251.8 L301.4,253.7 L302.0,255.6 L302.5,257.5 L303.1,259.4 L303.6,261.3 L304.2,263.2 L304.7,265.1 L305.3,267.0 L305.8,268.9 L306.4,270.8 L306.9,272.7 L307.4,274.6 L308.0,276.5 L308.5,278.4 L309.1,280.3 L309.6,282.2 L310.2,284.1 L310.7,286.0 L311.2,287.9 L311.7,289.8 L312.2,291.7 L312.7,293.6 L313.2,295.6 L313.7,297.5 L314.2,299.4 L314.7,301.3 L315.2,303.2 L315.7,305.1 L316.2,307.1 L316.7,309.0 L317.2,310.9 L317.6,312.8 L318.1,314.7 L318.6,316.6 L319.1,318.6 L319.6,320.5 L320.1,322.4 L320.6,324.3 L321.0,326.2 L321.5,328.2 L322.0,330.1 L322.5,332.0 L322.9,333.9 L323.4,335.9 L323.9,337.8 L324.3,339.7 L324.8,341.6 L325.3,343.6 L325.7,345.5 L326.2,347.4 L326.7,349.3 L327.1,351.3 L327.6,353.2 L328.1,355.1 L328.6,357.0 L329.0,359.0 L329.6,360.9 L330.1,362.8 L330.6,364.7 L331.1,366.6 L331.7,368.5 L332.3,370.4 L332.8,372.2 L333.4,374.1 L333.9,376.0 L334.5,377.9 L335.1,379.8 L335.6,381.7 L336.2,383.6 L336.7,385.5 L337.3,387.4 L337.8,389.3 L338.4,391.2 L339.0,393.1 L339.5,395.0 L340.0,396.9 L340.5,398.8 L341.0,400.7 L341.5,402.6 L342.0,404.5 L342.4,406.5 L342.8,408.4 L343.2,410.3 L343.7,412.3 L344.1,414.2 L344.5,416.2 L344.9,418.1 L345.3,420.1 L345.7,422.0 L346.1,423.9 L346.6,425.9 L347.0,427.8 L347.4,429.8 L347.8,431.7 L348.2,433.6 L348.6,435.6 L349.1,437.5 L349.5,439.5 L349.9,441.4 L350.3,443.3 L350.8,445.3 L351.2,447.2 L351.6,449.2 L352.1,451.1 L352.5,453.0 L352.9,455.0 L353.4,456.9 L353.8,458.8 L354.2,460.8 L354.7,462.7 L355.1,464.6 L355.5,466.6 L356.0,468.5 L356.4,470.4 L356.8,472.4 L357.3,474.3 L357.7,476.3 L358.1,478.2 L358.6,480.1 L359.0,482.1 L359.4,484.0 L359.8,486.0 L360.2,487.9 L360.6,489.8 L361.1,491.8 L361.5,493.7 L361.9,495.7 L362.3,497.6 L362.7,499.5 L363.1,501.5 L363.6,503.4 L364.0,505.4 L364.4,507.3 L364.8,509.3 L365.2,511.2 L365.6,513.1 L366.0,515.1 L366.5,517.0 L366.9,519.0 L367.3,520.9 L367.7,522.8 L368.1,524.8 L368.5,526.7 L368.9,528.7 L369.3,530.6 L369.8,532.6 L370.2,534.5 L370.6,536.4 L371.0,538.4 L371.4,540.3 L371.8,542.3 L372.2,544.2 L372.6,546.2 L373.0,548.1 L373.5,550.0 L373.9,552.0 L374.3,553.9 L374.7,555.9 L375.2,557.8 L375.7,559.7 L376.2,561.6 L376.8,563.5 L377.3,565.4 L377.9,567.2 L378.5,569.1 L379.1,571.0 L379.7,572.9 L380.4,574.7 L381.0,576.6 L381.6,578.4 L382.3,580.3 L383.0,582.1 L383.7,584.0 L384.4,585.8 L385.1,587.6 L385.8,589.4 L386.6,591.2 L387.3,593.0 L388.0,594.8 L388.7,596.6 L389.5,598.4 L390.3,600.2 L391.1,601.9 L391.9,603.7 L392.8,605.5 L393.6,607.2 L394.4,609.0 L395.2,610.8 L396.0,612.5 L396.8,614.3 L397.6,616.1 L398.4,617.8 L399.3,619.6 L400.1,621.3 L400.9,623.1 L401.5,625.0 L402.1,626.8 L402.7,628.7 L403.3,630.6 L403.8,632.5 L404.3,634.4 L404.8,636.3 L405.3,638.2 L405.8,640.1 L406.3,642.1 L406.8,644.0 L407.4,645.9 L407.9,647.8 L408.5,649.7 L409.0,651.6 L409.5,653.5 L410.0,655.4 L410.4,657.3 L410.9,659.3 L411.3,661.2 L411.8,660.9 L412.4,659.0 L412.9,657.1 L413.4,655.2 L413.9,653.3 L414.5,651.4 L415.0,649.5 L415.6,647.6 L416.6,646.0 L417.6,644.4 L418.6,642.7 L419.6,641.1 L420.6,639.5 L421.2,637.6 L421.8,635.7 L422.4,633.9 L423.0,632.0 L423.7,630.1 L424.3,628.3 L424.9,626.4 L425.5,624.5 L426.1,622.7 L426.8,620.8 L427.4,618.9 L428.0,617.1 L428.6,615.2 L428.9,613.2 L429.2,611.3 L429.6,609.3 L429.9,607.4 L430.2,605.4 L430.6,603.4 L430.9,601.5 L431.2,599.5 L431.6,597.5 L431.9,595.6 L432.2,593.6 L432.6,591.6 L432.9,589.7 L433.2,587.7 L433.7,585.8 L434.2,583.9 L434.7,582.0 L435.1,580.0 L435.6,578.1 L436.1,576.2 L436.5,574.3 L437.0,572.3 L437.5,570.4 L438.0,568.5 L438.4,566.6 L438.9,564.6 L439.4,562.7 L439.8,560.8 L440.3,558.9 L440.8,556.9 L441.3,555.0 L441.7,553.1 L442.2,551.2 L442.7,549.2 L443.1,547.3 L443.6,545.4 L444.1,543.5 L444.5,541.5 L445.0,539.6 L445.4,537.7 L445.8,535.7 L446.1,533.8 L446.4,531.8 L446.8,529.8 L447.1,527.9 L447.3,525.9 L447.6,523.9 L447.9,521.9 L448.2,520.0 L448.5,518.0 L448.8,516.0 L449.1,514.1 L449.4,512.1 L449.7,510.1 L450.0,508.2 L450.4,506.2 L450.7,504.2 L451.1,502.3 L451.4,500.3 L451.8,498.4 L452.1,496.4 L452.5,494.5 L452.9,492.5 L453.3,490.6 L453.8,488.6 L454.2,486.7 L454.6,484.8 L455.1,482.8 L455.5,480.9 L455.9,479.0 L456.4,477.0 L456.8,475.1 L457.3,473.2 L457.7,471.2 L458.2,469.3 L458.7,467.4 L459.2,465.5 L459.7,463.6 L460.2,461.7 L460.7,459.8 L461.3,457.9 L461.8,456.0 L462.4,454.1 L462.9,452.2 L463.5,450.3 L464.0,448.4 L464.5,446.5 L465.1,444.6 L465.6,442.7 L466.1,440.8 L466.6,438.8 L467.1,436.9 L467.6,435.0 L468.1,433.1 L468.5,431.2 L469.0,429.2 L469.5,427.3 L469.9,425.4 L470.4,423.4 L470.8,421.5 L471.3,419.6 L471.8,417.7 L472.2,415.7 L472.7,413.8 L473.2,411.9 L473.6,410.0 L474.1,408.1 L474.7,406.2 L475.2,404.3 L475.8,402.4 L476.3,400.5 L476.9,398.6 L477.5,396.7 L478.1,394.9 L478.7,393.0 L479.3,391.1 L479.9,389.2 L480.5,387.4 L481.1,385.5 L481.7,383.6 L482.3,381.7 L482.9,379.9 L483.5,378.0 L484.1,376.1 L484.7,374.2 L485.4,372.4 L486.0,370.5 L486.6,368.6 L487.2,366.8 L487.9,364.9 L488.5,363.1 L489.2,361.2 L489.8,359.4 L490.5,357.5 L491.1,355.7 L491.8,353.8 L492.4,352.0 L493.1,350.1 L493.8,348.3 L494.4,346.4 L495.1,344.6 L495.8,342.8 L496.5,341.0 L497.2,339.2 L498.0,337.4 L498.8,335.6 L499.7,333.9 L500.5,332.2 L501.4,330.5 L502.3,328.7 L503.2,327.0 L504.0,325.3 L504.9,323.6 L505.8,321.9 L506.7,320.2 L507.7,318.5 L508.6,316.9 L509.7,315.3 L510.7,313.8 L511.9,312.3 L513.1,310.9 L514.3,309.5 L515.5,308.1 L516.8,306.8 L518.1,305.4 L519.3,304.1 L520.6,302.9 L522.0,301.7 L523.4,300.6 L524.8,299.7 L526.3,298.9 L527.9,298.3 L529.5,297.8 L531.2,297.5 L532.8,297.3 L534.5,297.1 L536.2,297.1 L537.9,297.0 L539.6,297.1 L541.3,297.2 L543.0,297.3 L544.6,297.7 L546.2,298.1 L547.8,298.7 L549.3,299.5 L550.8,300.4 L552.3,301.4 L553.7,302.5 L555.1,303.7 L556.4,304.9 L557.8,306.1 L559.1,307.4 L560.4,308.7 L561.7,310.0 L563.0,311.3 L564.3,312.6 L565.5,313.9 L566.8,315.3 L568.0,316.7 L569.1,318.2 L570.2,319.7 L571.3,321.2 L572.3,322.8 L573.4,324.4 L574.4,326.0 L575.4,327.6 L576.4,329.3 L577.4,330.9 L578.4,332.5 L579.4,334.2 L580.3,335.8 L581.3,337.5 L582.2,339.2 L583.1,340.9 L584.0,342.6 L584.8,344.3 L585.7,346.0 L586.6,347.7 L587.4,349.5 L588.3,351.2 L589.1,353.0 L589.9,354.7 L590.7,356.5 L591.5,358.2 L592.3,360.0 L593.1,361.8 L593.8,363.6 L594.6,365.4 L595.4,367.2 L596.1,369.0 L596.9,370.8 L597.6,372.6 L598.4,374.4 L599.1,376.2 L599.9,378.0 L600.6,379.8 L601.3,381.6 L602.0,383.4 L602.8,385.2 L603.5,387.1 L604.2,388.9 L604.9,390.7 L605.6,392.5 L606.4,394.3 L607.1,396.1 L607.8,397.9 L608.5,399.8 L609.2,401.6 L610.0,403.4 L610.7,405.2 L611.4,407.0 L612.1,408.9 L612.8,410.7 L613.5,412.5 L614.2,414.3 L615.0,416.1 L615.7,417.9 L616.4,419.8 L617.1,421.6 L617.8,423.4 L618.4,425.3 L619.1,427.1 L619.8,429.0 L620.4,430.8 L621.0,432.7 L621.6,434.5 L622.2,436.4 L622.8,438.3 L623.5,440.2 L624.1,442.0 L624.7,443.9 L625.3,445.8 L625.9,447.6 L626.6,449.5 L627.2,451.3 L627.8,453.2 L628.5,455.1 L629.1,456.9 L629.7,458.8 L630.4,460.6 L631.0,462.5 L631.6,464.4 L632.2,466.3 L632.7,468.1 L633.2,470.0 L633.8,472.0 L634.3,473.9 L634.8,475.8 L635.3,477.7 L635.7,479.6 L636.3,481.5 L636.8,483.4 L637.3,485.3 L637.9,487.2 L638.5,489.1 L639.2,490.9 L639.9,492.7 L640.6,494.5 L641.3,496.3 L642.1,498.1 L642.8,499.9 L643.6,501.7 L644.3,503.5 L644.9,505.4 L645.5,507.2 L646.0,509.1 L646.5,511.0 L647.0,513.0 L647.4,514.9 L647.9,516.8 L648.3,518.8 L648.8,520.7 L649.2,522.6 L649.8,524.5 L650.3,526.4 L650.9,528.3 L651.5,530.1 L652.1,532.0 L652.8,533.9 L653.4,535.7 L654.0,537.6 L654.7,539.4 L655.3,541.3 L655.9,543.2 L656.6,545.0 L657.2,546.9 L657.8,548.7 L658.5,550.6 L659.1,552.5 L659.7,554.3 L660.4,556.2 L661.0,558.0 L661.6,559.9 L662.3,561.8 L662.9,563.6 L663.5,565.5 L664.0,567.4 L664.6,569.3 L665.1,571.2 L665.6,573.1 L666.1,575.0 L666.5,576.9 L667.0,578.9 L667.4,580.8 L667.9,582.7 L668.3,584.7 L668.8,586.6 L669.2,588.5 L669.7,590.4 L670.2,592.4 L670.6,594.3 L671.1,596.2 L671.5,598.2 L671.9,600.1 L672.4,602.0 L672.8,604.0 L673.3,605.9 L673.7,607.8 L674.2,609.8 L674.6,611.7 L675.1,613.6 L675.5,615.6 L676.0,617.5 L676.5,619.4 L677.0,621.3 L677.5,623.2 L678.0,625.2 L678.5,627.1 L679.0,629.0 L679.5,630.9 L680.0,632.8 L680.5,634.7 L681.1,636.6 L681.7,638.4 L682.4,640.3 L683.1,642.1 L683.8,643.9 L684.6,645.6 L685.4,647.4 L686.2,649.2 L687.0,650.9 L687.9,652.7 L688.7,654.4 L689.6,656.1 L690.4,657.9 L691.3,659.6 L692.2,661.3 L693.1,663.0 L693.9,664.8 L694.7,666.5 L695.4,668.3 L696.1,670.1 L696.8,672.0 L697.4,673.8 L698.0,675.7 L698.5,677.6 L699.1,679.5 L699.7,681.4 L700.2,683.3 L700.8,685.2 L701.4,687.0 L701.9,688.9 L702.5,690.8 L703.1,692.7 L703.7,694.6 L704.3,696.4 L704.9,698.3 L705.6,700.1 L706.3,701.9 L707.1,703.7 L707.9,705.5 L708.7,707.3 L709.5,709.0 L710.3,710.8 L711.1,712.6 L711.9,714.3 L712.7,716.1 L713.6,717.8 L714.4,719.6 L715.2,721.3 L716.1,723.0 L716.9,724.8 L717.8,726.5 L718.7,728.2 L719.5,730.0 L720.4,731.7 L721.2,733.4 L722.1,735.2 L723.0,736.9 L723.8,738.6 L724.7,740.3 L725.6,742.0 L726.5,743.8 L727.4,745.5 L728.2,747.2 L729.1,748.9 L730.0,750.6 L730.9,752.3 L731.7,754.1 L732.6,755.8 L733.5,757.5 L734.3,759.2 L735.2,761.0 L736.1,762.7 L737.0,764.4 L737.9,766.1 L738.8,767.8 L739.7,769.4 L740.7,771.1 L741.6,772.8 L742.6,774.4 L743.5,776.1 L744.4,777.8 L745.3,779.5 L746.2,781.2 L747.0,783.0 L747.9,784.7 L748.8,786.3 L749.8,788.0 L750.8,789.5 L751.9,791.0 L753.1,792.5 L754.2,794.0 L755.4,795.4 L756.6,796.8 L757.8,798.3 L759.0,799.7 L760.3,801.1 L761.5,802.5 L762.7,803.9 L763.9,805.3 L765.1,806.8 L766.3,808.2 L767.5,809.6 L768.7,811.0 L770.0,812.4 L771.2,813.7 L772.5,815.1 L773.7,816.4 L775.0,817.8 L776.3,819.1 L777.6,820.4 L778.9,821.7 L780.2,823.0 L781.6,824.2 L782.9,825.4 L784.3,826.6 L785.6,827.8 L787.0,829.1 L788.4,830.3 L789.7,831.5 L791.0,832.7 L792.4,834.0 L793.7,835.2 L795.1,836.5 L796.4,837.7 L797.8,838.9 L799.1,840.2 L800.5,841.4 L801.9,842.5 L803.2,843.7 L804.6,844.9 L806.0,846.0 L807.5,847.1 L808.9,848.3 L810.3,849.3 L811.8,850.4 L813.2,851.5 L814.7,852.5 L816.2,853.5 L817.6,854.5 L819.1,855.5 L820.6,856.6 L822.0,857.6 L823.5,858.7 L824.9,859.8 L826.4,860.8 L827.8,861.8 L829.3,862.8 L830.8,863.8 L832.3,864.7 L833.9,865.5 L835.4,866.3 L837.0,867.1 L838.6,867.9 L840.2,868.6 L841.8,869.4 L843.4,870.1 L844.9,870.8 L846.5,871.5 L848.1,872.3 L849.7,873.0 L851.3,873.6 L853.0,874.3 L854.6,874.9 L856.2,875.4 L857.9,875.8 L859.6,876.2 L861.2,876.5 L862.9,876.8 L864.6,877.1 L866.3,877.5 L868.0,877.8 L869.6,878.2 L871.3,878.7 L873.0,879.1 L874.6,879.6 L876.3,880.1 L878.0,880.5 L879.6,880.8 L881.3,881.1 L883.0,881.4 L884.7,881.6 L886.4,881.8 L888.1,882.0 L889.8,882.2 L891.5,882.5 L893.2,882.7 L894.9,883.0 L896.6,883.3 L898.3,883.7 L899.9,884.0 L901.6,884.4 L903.3,884.8 L905.0,885.2 L906.6,885.6 L908.3,886.0 L910.0,886.3 L911.7,886.6 L913.4,886.8 L915.1,887.0 L916.8,887.1 L918.5,887.2 L920.2,887.4 L921.9,887.5 L923.6,887.6 L925.3,887.7 L927.0,887.8 L928.7,887.9 L930.4,888.0 L932.1,888.1 L933.9,888.2 L935.6,888.3 L937.3,888.3 L939.0,888.4 L940.7,888.4 L942.4,888.5 L944.1,888.5 L945.8,888.5 L947.5,888.6 L949.2,888.6 L951.0,888.6 L952.7,888.6 L954.4,888.6 L956.1,888.6 L957.8,888.7 L959.5,888.7 L961.2,888.7 L962.9,888.7 L964.6,888.7 L966.4,888.7 L968.1,888.8 L969.8,888.8 L971.5,888.8 L973.2,888.8 L974.9,888.8 L976.6,888.8 L978.3,888.9 L980.0,888.9 L981.7,888.9 L983.5,888.9 L985.2,888.9 L986.9,889.0 L988.6,889.0 L990.3,889.0 L992.0,889.1 L993.7,889.2 L995.4,889.3 L997.1,889.5 L998.8,889.7 L1000.5,890.0 L1002.2,890.3 L1003.9,890.6 L1005.6,890.8 L1007.2,891.1 L1008.9,891.2 L1010.7,891.4 L1012.4,891.5 L1014.1,891.5 L1015.8,891.6 L1017.5,891.7 L1019.2,891.7 L1020.9,891.8 L1022.6,891.8 L1024.3,891.9 L1026.0,891.9 L1027.7,892.0 L1029.5,892.0 L1031.2,892.1 L1032.9,892.1 L1034.6,892.1 L1036.3,892.1 L1038.0,892.1 L1039.7,892.1 L1041.4,892.1 L1043.1,892.1 L1044.9,892.1 L1046.6,892.1 L1048.3,892.1 L1050.0,892.1 L1051.7,892.1 L1053.4,892.1 L1055.1,892.1 L1056.8,892.0 L1058.5,892.0 L1060.2,892.0 L1062.0,892.0 L1063.7,892.0 L1065.4,892.0 L1067.1,892.0 L1068.8,892.0 L1070.5,892.0 L1072.2,892.0"/>
<path d="M268.2,126.0 L268.8,127.9 L269.4,129.8 L269.9,131.7 L270.5,133.5 L271.1,135.4 L271.7,137.3 L272.2,139.2 L272.8,141.1 L273.4,143.0 L274.0,144.8 L274.5,146.7 L275.1,148.6 L275.7,150.5 L276.3,152.4 L276.8,154.3 L277.4,156.2 L278.0,158.0 L278.6,159.9 L279.1,161.8 L279.7,163.7 L280.3,165.6 L280.8,167.5 L281.3,169.4 L281.9,171.3 L282.4,173.2 L282.9,175.1 L283.4,177.0 L283.9,178.9 L284.3,180.9 L284.8,182.8 L285.3,184.7 L285.8,186.6 L286.3,188.5 L286.8,190.5 L287.3,192.4 L287.8,194.3 L288.2,196.2 L288.7,198.1 L289.2,200.0 L289.7,202.0 L290.2,203.9 L290.7,205.8 L291.2,207.7 L291.6,209.6 L292.1,211.6 L292.6,213.5 L293.1,215.4 L293.5,217.3 L294.0,219.3 L294.5,221.2 L295.0,223.1 L295.4,225.0 L295.9,227.0 L296.4,228.9 L296.8,230.8 L297.3,232.7 L297.8,234.6 L298.3,236.6 L298.7,238.5 L299.2,240.4 L299.7,242.3 L300.2,244.3 L300.6,246.2 L301.1,248.1 L301.6,250.0 L302.2,251.9 L302.7,253.8 L303.3,255.7 L303.8,257.6 L304.4,259.5 L305.0,261.4 L305.5,263.2 L306.1,265.1 L306.7,267.0 L307.3,268.9 L307.8,270.8 L308.4,272.7 L309.0,274.6 L309.5,276.5 L310.1,278.3 L310.7,280.2 L311.3,282.1 L311.8,284.0 L312.4,285.9 L312.9,287.8 L313.5,289.7 L314.1,291.6 L314.6,293.5 L315.2,295.4 L315.7,297.2 L316.3,299.1 L316.8,301.0 L317.4,302.9 L317.9,304.8 L318.5,306.7 L319.0,308.6 L319.6,310.5 L320.1,312.4 L320.7,314.3 L321.2,316.2 L321.8,318.1 L322.3,320.0 L322.9,321.9 L323.4,323.8 L323.9,325.7 L324.4,327.6 L324.9,329.5 L325.4,331.4 L325.9,333.4 L326.4,335.3 L326.9,337.2 L327.3,339.1 L327.8,341.0 L328.3,343.0 L328.8,344.9 L329.3,346.8 L329.8,348.7 L330.3,350.6 L330.8,352.5 L331.3,354.5 L331.7,356.4 L332.3,358.3 L332.8,360.2 L333.3,362.1 L333.8,364.0 L334.4,365.9 L334.9,367.8 L335.5,369.7 L336.0,371.6 L336.6,373.5 L337.2,375.4 L337.7,377.2 L338.3,379.1 L338.8,381.0 L339.4,382.9 L340.0,384.8 L340.5,386.7 L341.1,388.6 L341.6,390.5 L342.2,392.4 L342.7,394.3 L343.3,396.2 L343.8,398.1 L344.3,400.0 L344.8,401.9 L345.3,403.8 L345.8,405.7 L346.2,407.7 L346.7,409.6 L347.2,411.5 L347.6,413.5 L348.1,415.4 L348.5,417.3 L349.0,419.2 L349.4,421.2 L349.9,423.1 L350.3,425.0 L350.8,427.0 L351.2,428.9 L351.7,430.8 L352.1,432.7 L352.6,434.7 L353.1,436.6 L353.5,438.5 L354.0,440.5 L354.5,442.4 L355.0,444.3 L355.4,446.2 L355.9,448.1 L356.4,450.0 L356.9,452.0 L357.4,453.9 L357.9,455.8 L358.4,457.7 L358.9,459.6 L359.4,461.5 L359.9,463.5 L360.4,465.4 L360.8,467.3 L361.3,469.2 L361.8,471.1 L362.3,473.1 L362.8,475.0 L363.3,476.9 L363.7,478.8 L364.2,480.7 L364.6,482.7 L365.1,484.6 L365.5,486.6 L365.9,488.5 L366.3,490.4 L366.7,492.4 L367.2,494.3 L367.6,496.3 L368.0,498.2 L368.4,500.1 L368.8,502.1 L369.2,504.0 L369.7,506.0 L370.1,507.9 L370.5,509.9 L370.9,511.8 L371.3,513.7 L371.7,515.7 L372.2,517.6 L372.6,519.6 L373.0,521.5 L373.4,523.4 L373.9,525.4 L374.3,527.3 L374.7,529.2 L375.2,531.2 L375.6,533.1 L376.0,535.0 L376.5,537.0 L376.9,538.9 L377.3,540.9 L377.8,542.8 L378.2,544.7 L378.6,546.7 L379.1,548.6 L379.5,550.5 L379.9,552.5 L380.4,554.4 L380.9,556.3 L381.3,558.2 L381.8,560.2 L382.4,562.1 L382.9,563.9 L383.5,565.8 L384.1,567.7 L384.7,569.6 L385.3,571.5 L385.9,573.3 L386.5,575.2 L387.2,577.0 L387.9,578.9 L388.6,580.7 L389.3,582.5 L390.0,584.3 L390.7,586.1 L391.4,587.9 L392.3,589.7 L393.1,591.4 L393.9,593.2 L394.8,594.9 L395.6,596.7 L396.2,598.5 L396.8,600.4 L397.4,602.3 L398.0,604.2 L398.5,606.1 L398.9,608.0 L399.4,610.0 L399.8,611.9 L400.2,613.8 L400.6,615.8 L401.0,617.7 L401.4,619.7 L401.7,621.7 L402.1,623.6 L402.4,625.6 L402.8,627.5 L403.2,629.5 L403.9,628.7 L404.7,627.0 L405.4,625.2 L406.1,623.3 L406.8,621.5 L407.5,619.7 L408.2,617.9 L408.9,616.0 L409.6,614.2 L410.3,612.4 L410.7,610.4 L411.2,608.5 L411.6,606.6 L412.0,604.6 L412.5,602.7 L412.9,600.8 L413.4,598.8 L413.8,596.9 L414.2,595.0 L414.7,593.0 L415.1,591.1 L415.6,589.2 L416.0,587.2 L416.6,585.3 L417.1,583.4 L417.7,581.5 L418.2,579.6 L418.7,577.7 L419.3,575.8 L419.8,573.9 L420.4,572.0 L420.9,570.1 L421.4,568.2 L421.9,566.3 L422.5,564.4 L422.9,562.5 L423.4,560.6 L423.9,558.7 L424.4,556.7 L424.9,554.8 L425.3,552.9 L425.8,551.0 L426.3,549.0 L426.7,547.1 L427.2,545.2 L427.7,543.3 L428.1,541.3 L428.6,539.4 L429.0,537.5 L429.4,535.5 L429.8,533.6 L430.3,531.7 L430.7,529.7 L431.1,527.8 L431.5,525.8 L431.9,523.9 L432.3,521.9 L432.7,520.0 L433.0,518.0 L433.4,516.1 L433.7,514.1 L434.0,512.1 L434.3,510.2 L434.6,508.2 L434.9,506.2 L435.1,504.3 L435.4,502.3 L435.7,500.3 L436.0,498.3 L436.3,496.4 L436.6,494.4 L436.8,492.4 L437.1,490.4 L437.4,488.5 L437.7,486.5 L438.0,484.5 L438.2,482.5 L438.5,480.6 L438.8,478.6 L439.2,476.6 L439.5,474.7 L439.8,472.7 L440.2,470.8 L440.7,468.8 L441.1,466.9 L441.5,465.0 L442.0,463.0 L442.4,461.1 L442.9,459.2 L443.4,457.2 L443.8,455.3 L444.3,453.4 L444.7,451.5 L445.2,449.5 L445.6,447.6 L446.1,445.7 L446.5,443.7 L446.9,441.8 L447.3,439.9 L447.7,437.9 L448.1,435.9 L448.4,434.0 L448.7,432.0 L449.1,430.1 L449.4,428.1 L449.7,426.1 L450.0,424.2 L450.4,422.2 L450.7,420.2 L451.0,418.3 L451.3,416.3 L451.7,414.3 L452.0,412.4 L452.3,410.4 L452.7,408.5 L453.1,406.5 L453.6,404.6 L454.1,402.7 L454.6,400.8 L455.1,398.9 L455.7,397.0 L456.2,395.1 L456.8,393.2 L457.3,391.3 L457.9,389.4 L458.4,387.5 L459.0,385.6 L459.6,383.7 L460.1,381.9 L460.7,380.0 L461.2,378.1 L461.8,376.2 L462.3,374.3 L462.9,372.4 L463.4,370.5 L464.0,368.6 L464.5,366.7 L465.0,364.8 L465.5,362.9 L466.1,361.0 L466.6,359.1 L467.1,357.2 L467.6,355.2 L468.1,353.3 L468.6,351.4 L469.1,349.5 L469.6,347.6 L470.2,345.7 L470.7,343.8 L471.2,341.9 L471.7,340.0 L472.2,338.1 L472.7,336.2 L473.2,334.2 L473.8,332.4 L474.4,330.5 L475.0,328.6 L475.6,326.7 L476.2,324.9 L476.9,323.1 L477.6,321.2 L478.3,319.4 L479.0,317.6 L479.7,315.7 L480.4,313.9 L481.0,312.1 L481.7,310.2 L482.4,308.4 L483.1,306.6 L483.8,304.7 L484.5,302.9 L485.1,301.0 L485.8,299.2 L486.5,297.4 L487.2,295.6 L487.9,293.7 L488.7,291.9 L489.4,290.2 L490.2,288.4 L491.1,286.7 L491.9,284.9 L492.8,283.2 L493.7,281.5 L494.5,279.8 L495.4,278.1 L496.3,276.3 L497.2,274.6 L498.1,272.9 L499.0,271.2 L500.0,269.6 L501.0,268.0 L502.0,266.4 L503.1,264.9 L504.2,263.4 L505.4,262.0 L506.7,260.7 L507.9,259.4 L509.3,258.2 L510.7,257.1 L512.1,256.0 L513.6,255.1 L515.1,254.2 L516.7,253.4 L518.2,252.6 L519.8,251.9 L521.4,251.3 L523.0,250.8 L524.7,250.5 L526.3,250.3 L528.0,250.2 L529.7,250.3 L531.4,250.5 L533.0,250.8 L534.7,251.1 L536.4,251.6 L538.0,252.1 L539.6,252.6 L541.3,253.2 L542.8,253.9 L544.4,254.7 L545.8,255.6 L547.2,256.6 L548.6,257.8 L549.9,259.0 L551.1,260.4 L552.3,261.8 L553.5,263.2 L554.7,264.6 L555.9,266.0 L557.1,267.5 L558.2,269.0 L559.3,270.5 L560.3,272.1 L561.3,273.7 L562.3,275.3 L563.3,277.0 L564.3,278.6 L565.3,280.3 L566.2,281.9 L567.2,283.6 L568.2,285.2 L569.1,286.9 L570.1,288.6 L571.0,290.2 L571.9,291.9 L572.9,293.6 L573.8,295.3 L574.7,296.9 L575.6,298.6 L576.5,300.3 L577.4,302.0 L578.3,303.7 L579.2,305.5 L580.0,307.2 L580.8,309.0 L581.6,310.7 L582.4,312.5 L583.2,314.3 L584.0,316.0 L584.8,317.8 L585.6,319.6 L586.4,321.4 L587.2,323.1 L588.0,324.9 L588.8,326.7 L589.5,328.5 L590.3,330.3 L591.1,332.1 L591.8,333.9 L592.6,335.7 L593.3,337.4 L594.1,339.2 L594.8,341.0 L595.6,342.8 L596.3,344.6 L597.1,346.4 L597.8,348.3 L598.5,350.1 L599.3,351.9 L600.0,353.7 L600.7,355.5 L601.4,357.3 L602.1,359.2 L602.8,361.0 L603.4,362.8 L604.1,364.7 L604.8,366.5 L605.4,368.4 L606.1,370.2 L606.7,372.1 L607.4,373.9 L608.0,375.8 L608.7,377.6 L609.3,379.5 L610.0,381.3 L610.6,383.2 L611.3,385.0 L611.9,386.9 L612.6,388.7 L613.2,390.6 L613.9,392.4 L614.5,394.3 L615.2,396.1 L615.8,398.0 L616.5,399.8 L617.1,401.7 L617.8,403.6 L618.4,405.4 L619.0,407.3 L619.7,409.1 L620.3,411.0 L621.0,412.8 L621.6,414.7 L622.3,416.5 L622.9,418.4 L623.5,420.3 L624.2,422.1 L624.8,424.0 L625.4,425.8 L626.0,427.7 L626.7,429.6 L627.2,431.4 L627.8,433.3 L628.4,435.2 L629.0,437.1 L629.5,439.0 L630.1,440.9 L630.7,442.8 L631.2,444.7 L631.8,446.6 L632.3,448.4 L632.9,450.3 L633.5,452.2 L634.0,454.1 L634.6,456.0 L635.1,457.9 L635.7,459.8 L636.3,461.7 L636.8,463.6 L637.4,465.5 L637.9,467.4 L638.4,469.3 L639.0,471.2 L639.5,473.1 L640.0,475.0 L640.5,476.9 L641.1,478.8 L641.6,480.7 L642.1,482.6 L642.6,484.5 L643.1,486.4 L643.6,488.3 L644.1,490.2 L644.7,492.2 L645.2,494.1 L645.7,496.0 L646.2,497.9 L646.7,499.8 L647.3,501.7 L647.8,503.6 L648.4,505.4 L649.0,507.3 L649.7,509.2 L650.4,511.0 L651.0,512.8 L651.7,514.6 L652.4,516.5 L653.1,518.3 L653.8,520.1 L654.5,522.0 L655.1,523.8 L655.8,525.7 L656.4,527.5 L657.1,529.4 L657.7,531.3 L658.3,533.1 L658.9,535.0 L659.6,536.8 L660.2,538.7 L660.8,540.6 L661.4,542.5 L662.0,544.3 L662.6,546.2 L663.2,548.1 L663.8,549.9 L664.4,551.8 L665.0,553.7 L665.6,555.6 L666.2,557.4 L666.8,559.3 L667.4,561.2 L667.9,563.1 L668.5,565.0 L669.0,566.9 L669.5,568.8 L669.9,570.7 L670.4,572.7 L670.8,574.6 L671.3,576.5 L671.7,578.5 L672.2,580.4 L672.6,582.3 L673.1,584.2 L673.6,586.2 L674.1,588.1 L674.6,590.0 L675.2,591.9 L675.7,593.8 L676.3,595.6 L676.9,597.5 L677.5,599.4 L678.0,601.3 L678.6,603.2 L679.2,605.0 L679.8,606.9 L680.4,608.8 L680.9,610.7 L681.4,612.6 L681.9,614.5 L682.4,616.5 L682.8,618.4 L683.2,620.3 L683.6,622.3 L684.1,624.2 L684.5,626.1 L684.9,628.1 L685.3,630.0 L685.7,632.0 L686.2,633.9 L686.7,635.8 L687.2,637.7 L687.8,639.6 L688.4,641.4 L689.1,643.2 L689.8,645.1 L690.5,646.9 L691.3,648.7 L692.0,650.5 L692.8,652.3 L693.5,654.1 L694.2,655.9 L694.8,657.7 L695.5,659.6 L696.1,661.4 L696.8,663.3 L697.4,665.2 L698.0,667.0 L698.7,668.9 L699.3,670.7 L700.0,672.6 L700.7,674.4 L701.4,676.2 L702.1,678.1 L702.7,679.9 L703.4,681.7 L704.1,683.5 L704.9,685.4 L705.6,687.2 L706.3,689.0 L707.0,690.8 L707.7,692.6 L708.5,694.4 L709.2,696.3 L709.9,698.1 L710.6,699.9 L711.4,701.7 L712.1,703.5 L712.8,705.3 L713.6,707.1 L714.3,708.9 L715.0,710.7 L715.8,712.5 L716.5,714.3 L717.2,716.1 L718.0,717.9 L718.7,719.7 L719.5,721.5 L720.2,723.3 L721.0,725.1 L721.8,726.9 L722.5,728.7 L723.3,730.5 L724.1,732.3 L724.8,734.1 L725.6,735.9 L726.4,737.7 L727.2,739.4 L728.0,741.2 L728.8,743.0 L729.6,744.7 L730.4,746.5 L731.2,748.3 L732.0,750.0 L732.8,751.8 L733.6,753.5 L734.4,755.3 L735.3,757.1 L736.1,758.8 L736.9,760.6 L737.7,762.3 L738.6,764.1 L739.4,765.8 L740.3,767.5 L741.2,769.2 L742.1,770.9 L743.0,772.6 L743.9,774.3 L744.8,776.0 L745.7,777.7 L746.5,779.5 L747.3,781.2 L748.2,783.0 L749.0,784.7 L749.9,786.4 L750.7,788.1 L751.7,789.8 L752.7,791.3 L753.8,792.9 L754.9,794.3 L756.1,795.8 L757.3,797.1 L758.6,798.5 L759.9,799.7 L761.3,801.0 L762.6,802.2 L764.0,803.4 L765.3,804.6 L766.6,805.9 L768.0,807.2 L769.2,808.5 L770.5,809.8 L771.7,811.2 L773.0,812.5 L774.3,813.9 L775.5,815.2 L776.8,816.6 L778.1,817.9 L779.4,819.2 L780.7,820.5 L782.0,821.8 L783.3,823.0 L784.7,824.2 L786.1,825.5 L787.4,826.7 L788.8,827.9 L790.1,829.1 L791.5,830.3 L792.9,831.5 L794.2,832.7 L795.6,834.0 L796.9,835.2 L798.2,836.4 L799.6,837.7 L800.9,838.9 L802.3,840.1 L803.6,841.4 L805.0,842.5 L806.4,843.7 L807.8,844.9 L809.2,846.1 L810.6,847.2 L812.0,848.3 L813.4,849.4 L814.9,850.4 L816.4,851.4 L817.8,852.4 L819.3,853.4 L820.8,854.4 L822.3,855.5 L823.7,856.5 L825.2,857.6 L826.6,858.6 L828.1,859.7 L829.5,860.7 L831.0,861.6 L832.6,862.5 L834.1,863.4 L835.7,864.2 L837.2,865.0 L838.8,865.8 L840.4,866.6 L842.0,867.3 L843.5,868.1 L845.1,868.9 L846.7,869.6 L848.3,870.4 L849.9,871.1 L851.5,871.8 L853.1,872.5 L854.7,873.1 L856.3,873.6 L858.0,874.0 L859.7,874.4 L861.3,874.7 L863.0,875.0 L864.7,875.3 L866.4,875.7 L868.1,876.0 L869.7,876.4 L871.4,876.9 L873.1,877.4 L874.7,877.9 L876.4,878.3 L878.0,878.8 L879.7,879.1 L881.4,879.4 L883.1,879.7 L884.8,879.9 L886.5,880.1 L888.2,880.3 L889.9,880.5 L891.6,880.8 L893.3,881.1 L895.0,881.3 L896.6,881.6 L898.3,882.0 L900.0,882.3 L901.7,882.7 L903.4,883.1 L905.0,883.5 L906.7,883.9 L908.4,884.3 L910.0,884.7 L911.7,885.0 L913.4,885.2 L915.1,885.4 L916.8,885.5 L918.5,885.6 L920.2,885.7 L921.9,885.8 L923.6,885.9 L925.3,886.0 L927.1,886.1 L928.8,886.2 L930.5,886.3 L932.2,886.4 L933.9,886.5 L935.6,886.5 L937.3,886.6 L939.0,886.7 L940.7,886.7 L942.4,886.7 L944.1,886.8 L945.9,886.8 L947.6,886.8 L949.3,886.9 L951.0,886.9 L952.7,886.9 L954.4,886.9 L956.1,887.0 L957.8,887.0 L959.5,887.0 L961.2,887.0 L963.0,887.0 L964.7,887.1 L966.4,887.1 L968.1,887.1 L969.8,887.1 L971.5,887.2 L973.2,887.2 L974.9,887.2 L976.6,887.2 L978.4,887.2 L980.1,887.3 L981.8,887.3 L983.5,887.3 L985.2,887.3 L986.9,887.4 L988.6,887.4 L990.3,887.4 L992.0,887.5 L993.7,887.6 L995.4,887.7 L997.1,887.9 L998.8,888.2 L1000.5,888.4 L1002.2,888.8 L1003.9,889.1 L1005.6,889.3 L1007.3,889.6 L1009.0,889.8 L1010.7,889.9 L1012.4,890.0 L1014.1,890.1 L1015.8,890.2 L1017.5,890.2 L1019.2,890.3 L1020.9,890.4 L1022.6,890.4 L1024.3,890.5 L1026.0,890.5 L1027.8,890.6 L1029.5,890.6 L1031.2,890.7 L1032.9,890.7 L1034.6,890.7 L1036.3,890.7 L1038.0,890.7 L1039.7,890.7 L1041.4,890.7 L1043.1,890.7 L1044.9,890.7 L1046.6,890.7 L1048.3,890.7 L1050.0,890.7 L1051.7,890.7 L1053.4,890.7 L1055.1,890.7 L1056.8,890.7 L1058.5,890.7 L1060.2,890.7 L1062.0,890.7 L1063.7,890.7 L1065.4,890.7 L1067.1,890.6 L1068.8,890.6 L1070.5,890.6 L1072.2,890.6"/>
<path d="M269.7,126.0 L270.3,127.9 L270.9,129.7 L271.5,131.6 L272.1,133.5 L272.7,135.4 L273.3,137.2 L273.9,139.1 L274.5,141.0 L275.1,142.9 L275.7,144.7 L276.3,146.6 L276.9,148.5 L277.5,150.4 L278.1,152.2 L278.7,154.1 L279.3,156.0 L279.9,157.9 L280.5,159.7 L281.1,161.6 L281.7,163.5 L282.3,165.4 L282.8,167.3 L283.4,169.2 L283.9,171.1 L284.4,173.0 L284.9,174.9 L285.4,176.8 L285.8,178.7 L286.3,180.7 L286.8,182.6 L287.2,184.5 L287.7,186.4 L288.2,188.4 L288.7,190.3 L289.1,192.2 L289.6,194.1 L290.1,196.1 L290.5,198.0 L291.0,199.9 L291.5,201.8 L291.9,203.8 L292.4,205.7 L292.9,207.6 L293.3,209.5 L293.8,211.5 L294.3,213.4 L294.7,215.3 L295.2,217.3 L295.6,219.2 L296.1,221.1 L296.5,223.0 L297.0,225.0 L297.4,226.9 L297.9,228.8 L298.3,230.8 L298.8,232.7 L299.2,234.6 L299.7,236.6 L300.1,238.5 L300.6,240.4 L301.0,242.4 L301.5,244.3 L302.0,246.2 L302.5,248.1 L303.0,250.0 L303.5,251.9 L304.0,253.8 L304.6,255.7 L305.2,257.6 L305.7,259.5 L306.3,261.4 L306.9,263.3 L307.5,265.2 L308.1,267.0 L308.6,268.9 L309.2,270.8 L309.8,272.7 L310.4,274.6 L311.0,276.5 L311.5,278.3 L312.1,280.2 L312.7,282.1 L313.3,284.0 L313.9,285.9 L314.5,287.7 L315.1,289.6 L315.7,291.5 L316.4,293.3 L317.0,295.2 L317.6,297.0 L318.3,298.9 L318.9,300.8 L319.5,302.6 L320.2,304.5 L320.8,306.3 L321.4,308.2 L322.1,310.1 L322.7,311.9 L323.3,313.8 L324.0,315.6 L324.6,317.5 L325.2,319.4 L325.8,321.2 L326.4,323.1 L327.0,325.0 L327.5,326.9 L328.0,328.8 L328.5,330.7 L329.0,332.6 L329.5,334.5 L330.0,336.5 L330.5,338.4 L331.0,340.3 L331.5,342.2 L332.0,344.1 L332.5,346.1 L333.0,348.0 L333.5,349.9 L334.0,351.8 L334.5,353.7 L335.0,355.6 L335.5,357.6 L336.0,359.5 L336.5,361.4 L337.0,363.3 L337.5,365.2 L338.1,367.1 L338.6,369.0 L339.1,370.9 L339.7,372.8 L340.2,374.7 L340.8,376.6 L341.3,378.5 L341.8,380.4 L342.4,382.3 L342.9,384.2 L343.5,386.1 L344.0,388.0 L344.6,389.9 L345.1,391.8 L345.6,393.7 L346.2,395.6 L346.7,397.5 L347.3,399.4 L347.8,401.3 L348.4,403.2 L348.9,405.1 L349.4,407.0 L350.0,408.9 L350.5,410.8 L351.1,412.7 L351.6,414.6 L352.2,416.4 L352.7,418.3 L353.3,420.2 L353.8,422.1 L354.4,424.0 L354.9,425.9 L355.5,427.8 L356.0,429.7 L356.6,431.6 L357.1,433.5 L357.7,435.4 L358.2,437.3 L358.8,439.2 L359.3,441.1 L359.9,443.0 L360.4,444.9 L361.0,446.8 L361.6,448.7 L362.1,450.6 L362.7,452.4 L363.3,454.3 L363.8,456.2 L364.4,458.1 L365.0,460.0 L365.5,461.9 L366.1,463.8 L366.7,465.7 L367.2,467.6 L367.8,469.4 L368.3,471.3 L368.9,473.2 L369.4,475.1 L370.0,477.0 L370.5,478.9 L371.0,480.8 L371.5,482.8 L371.9,484.7 L372.3,486.6 L372.8,488.6 L373.2,490.5 L373.6,492.5 L374.0,494.4 L374.4,496.3 L374.8,498.3 L375.3,500.2 L375.7,502.2 L376.1,504.1 L376.5,506.1 L376.9,508.0 L377.3,509.9 L377.8,511.9 L378.2,513.8 L378.6,515.8 L379.0,517.7 L379.4,519.7 L379.8,521.6 L380.2,523.5 L380.6,525.5 L381.0,527.4 L381.4,529.4 L381.8,531.3 L382.2,533.3 L382.6,535.2 L383.0,537.2 L383.4,539.1 L383.8,541.1 L384.2,543.0 L384.6,545.0 L385.0,546.9 L385.4,548.9 L385.8,550.8 L386.2,552.7 L386.6,554.7 L387.0,556.6 L387.4,558.6 L387.9,560.5 L388.3,562.4 L388.8,564.4 L389.2,566.3 L389.7,568.2 L390.2,570.1 L390.7,572.1 L391.1,574.0 L391.6,575.9 L392.1,577.8 L392.6,579.7 L393.1,581.7 L393.6,583.6 L394.1,585.5 L394.5,587.4 L394.9,589.4 L395.3,591.3 L395.7,593.3 L396.1,595.2 L396.5,597.2 L396.9,599.1 L397.4,601.0 L397.8,603.0 L398.5,602.2 L399.4,600.5 L400.3,598.8 L401.2,597.1 L401.9,595.3 L402.5,593.4 L403.1,591.5 L403.6,589.6 L404.2,587.7 L404.8,585.9 L405.3,584.0 L405.9,582.1 L406.5,580.2 L407.0,578.3 L407.6,576.4 L408.2,574.5 L408.7,572.6 L409.3,570.7 L409.8,568.9 L410.4,567.0 L410.9,565.0 L411.3,563.1 L411.7,561.2 L412.0,559.2 L412.3,557.3 L412.5,555.3 L412.7,553.3 L412.8,551.3 L413.0,549.3 L413.2,547.3 L413.4,545.3 L413.7,543.4 L413.9,541.4 L414.2,539.4 L414.5,537.4 L414.8,535.5 L415.2,533.5 L415.5,531.6 L416.0,529.6 L416.4,527.7 L416.9,525.8 L417.5,523.9 L418.0,522.0 L418.6,520.1 L419.2,518.3 L419.7,516.4 L420.2,514.5 L420.7,512.6 L421.2,510.6 L421.7,508.7 L422.1,506.8 L422.5,504.8 L423.0,502.9 L423.4,501.0 L423.8,499.0 L424.2,497.1 L424.6,495.1 L425.0,493.2 L425.4,491.2 L425.8,489.3 L426.2,487.3 L426.6,485.4 L427.0,483.4 L427.4,481.5 L427.8,479.5 L428.1,477.6 L428.5,475.6 L428.9,473.7 L429.3,471.7 L429.6,469.8 L430.0,467.8 L430.3,465.8 L430.6,463.9 L430.9,461.9 L431.2,459.9 L431.5,458.0 L431.7,456.0 L432.0,454.0 L432.3,452.0 L432.6,450.1 L432.9,448.1 L433.2,446.1 L433.5,444.1 L433.8,442.2 L434.1,440.2 L434.4,438.2 L434.8,436.3 L435.1,434.3 L435.5,432.4 L435.9,430.4 L436.3,428.5 L436.6,426.5 L437.0,424.6 L437.4,422.6 L437.8,420.7 L438.1,418.7 L438.5,416.8 L438.9,414.8 L439.3,412.9 L439.7,410.9 L440.2,409.0 L440.6,407.1 L441.1,405.1 L441.5,403.2 L442.0,401.3 L442.5,399.3 L442.9,397.4 L443.4,395.5 L443.9,393.6 L444.4,391.6 L444.8,389.7 L445.3,387.8 L445.8,385.9 L446.2,383.9 L446.7,382.0 L447.1,380.1 L447.6,378.1 L448.0,376.2 L448.4,374.3 L448.8,372.3 L449.1,370.4 L449.5,368.4 L449.9,366.4 L450.2,364.5 L450.6,362.5 L450.9,360.6 L451.3,358.6 L451.6,356.7 L452.0,354.7 L452.4,352.7 L452.7,350.8 L453.1,348.8 L453.5,346.9 L453.9,345.0 L454.4,343.0 L454.8,341.1 L455.3,339.2 L455.9,337.3 L456.4,335.4 L456.9,333.5 L457.5,331.6 L458.0,329.7 L458.5,327.8 L459.1,325.9 L459.6,324.0 L460.2,322.1 L460.7,320.2 L461.2,318.3 L461.8,316.4 L462.3,314.5 L462.9,312.6 L463.4,310.7 L463.9,308.8 L464.5,306.9 L465.0,305.0 L465.5,303.1 L466.1,301.2 L466.6,299.3 L467.1,297.4 L467.6,295.4 L468.1,293.5 L468.6,291.6 L469.1,289.7 L469.6,287.8 L470.1,285.9 L470.6,284.0 L471.2,282.1 L471.7,280.1 L472.2,278.2 L472.7,276.3 L473.2,274.4 L473.8,272.5 L474.4,270.7 L475.0,268.8 L475.7,267.0 L476.5,265.2 L477.3,263.4 L478.1,261.7 L478.9,259.9 L479.7,258.2 L480.5,256.4 L481.3,254.6 L482.1,252.9 L483.0,251.1 L483.8,249.4 L484.6,247.6 L485.5,245.9 L486.4,244.2 L487.4,242.6 L488.3,241.0 L489.4,239.4 L490.4,237.8 L491.5,236.2 L492.6,234.7 L493.7,233.1 L494.7,231.6 L495.8,230.0 L496.9,228.5 L498.1,227.1 L499.2,225.6 L500.5,224.3 L501.8,223.2 L503.2,222.1 L504.6,221.2 L506.2,220.3 L507.7,219.6 L509.3,218.9 L510.9,218.2 L512.5,217.6 L514.2,217.1 L515.8,216.7 L517.5,216.4 L519.2,216.2 L520.9,216.1 L522.6,216.0 L524.3,216.0 L526.0,216.0 L527.7,216.1 L529.3,216.2 L531.0,216.5 L532.6,216.9 L534.1,217.4 L535.7,218.1 L537.2,218.8 L538.7,219.6 L540.2,220.4 L541.7,221.3 L543.2,222.1 L544.7,223.0 L546.1,224.1 L547.5,225.2 L548.7,226.5 L550.0,227.8 L551.2,229.2 L552.4,230.6 L553.6,232.1 L554.7,233.5 L555.9,235.0 L557.1,236.5 L558.2,238.0 L559.3,239.5 L560.5,241.0 L561.6,242.5 L562.7,244.0 L563.8,245.6 L564.9,247.1 L565.9,248.7 L567.0,250.2 L568.0,251.8 L569.0,253.5 L570.0,255.1 L570.9,256.8 L571.9,258.4 L572.8,260.1 L573.7,261.8 L574.6,263.5 L575.5,265.2 L576.4,266.9 L577.2,268.7 L578.1,270.4 L578.9,272.2 L579.7,274.0 L580.5,275.7 L581.3,277.5 L582.0,279.3 L582.8,281.1 L583.5,282.9 L584.2,284.7 L584.9,286.6 L585.6,288.4 L586.2,290.2 L586.9,292.1 L587.6,293.9 L588.2,295.8 L588.9,297.6 L589.6,299.5 L590.2,301.3 L590.9,303.2 L591.5,305.0 L592.2,306.8 L592.9,308.7 L593.5,310.5 L594.2,312.4 L594.9,314.2 L595.5,316.1 L596.2,317.9 L596.9,319.8 L597.5,321.6 L598.1,323.5 L598.8,325.3 L599.4,327.2 L600.0,329.1 L600.6,330.9 L601.2,332.8 L601.9,334.7 L602.5,336.5 L603.1,338.4 L603.7,340.3 L604.3,342.1 L604.9,344.0 L605.6,345.9 L606.2,347.7 L606.8,349.6 L607.4,351.5 L608.0,353.3 L608.6,355.2 L609.3,357.1 L609.9,358.9 L610.5,360.8 L611.1,362.7 L611.7,364.6 L612.3,366.4 L612.9,368.3 L613.5,370.2 L614.1,372.1 L614.7,373.9 L615.3,375.8 L615.9,377.7 L616.5,379.6 L617.1,381.4 L617.6,383.3 L618.2,385.2 L618.8,387.1 L619.4,389.0 L620.0,390.8 L620.6,392.7 L621.2,394.6 L621.8,396.5 L622.4,398.3 L623.0,400.2 L623.7,402.1 L624.3,403.9 L625.0,405.8 L625.6,407.6 L626.3,409.5 L626.9,411.3 L627.6,413.2 L628.3,415.0 L628.9,416.9 L629.6,418.7 L630.2,420.6 L630.9,422.4 L631.5,424.3 L632.1,426.2 L632.6,428.0 L633.2,429.9 L633.7,431.8 L634.2,433.8 L634.7,435.7 L635.2,437.6 L635.7,439.5 L636.2,441.4 L636.7,443.3 L637.2,445.2 L637.8,447.1 L638.3,449.0 L639.0,450.9 L639.6,452.7 L640.3,454.5 L641.0,456.4 L641.7,458.2 L642.4,460.0 L643.1,461.9 L643.8,463.7 L644.5,465.5 L645.1,467.4 L645.7,469.2 L646.3,471.1 L646.8,473.0 L647.3,474.9 L647.8,476.8 L648.2,478.8 L648.7,480.7 L649.1,482.6 L649.5,484.6 L649.9,486.5 L650.4,488.4 L650.8,490.4 L651.3,492.3 L651.8,494.2 L652.4,496.1 L653.0,497.9 L653.6,499.8 L654.2,501.7 L654.9,503.5 L655.5,505.4 L656.2,507.2 L656.8,509.1 L657.4,511.0 L658.1,512.8 L658.7,514.7 L659.3,516.5 L660.0,518.4 L660.6,520.2 L661.3,522.1 L661.9,524.0 L662.5,525.8 L663.2,527.7 L663.8,529.5 L664.4,531.4 L665.0,533.3 L665.6,535.2 L666.2,537.0 L666.7,538.9 L667.2,540.8 L667.7,542.8 L668.2,544.7 L668.6,546.6 L669.1,548.6 L669.5,550.5 L670.0,552.4 L670.4,554.3 L670.9,556.3 L671.4,558.2 L671.8,560.1 L672.3,562.0 L672.9,563.9 L673.4,565.8 L674.0,567.7 L674.6,569.6 L675.2,571.5 L675.7,573.4 L676.3,575.2 L676.9,577.1 L677.5,579.0 L678.1,580.9 L678.7,582.8 L679.2,584.7 L679.8,586.5 L680.4,588.4 L680.9,590.3 L681.4,592.2 L682.0,594.1 L682.5,596.0 L683.1,597.9 L683.6,599.8 L684.2,601.7 L684.7,603.6 L685.2,605.5 L685.8,607.4 L686.3,609.3 L686.9,611.2 L687.4,613.1 L688.0,615.0 L688.6,616.9 L689.2,618.8 L689.8,620.6 L690.3,622.5 L690.9,624.4 L691.5,626.3 L692.1,628.2 L692.7,630.0 L693.3,631.9 L693.8,633.8 L694.4,635.7 L694.9,637.6 L695.5,639.5 L696.0,641.4 L696.5,643.3 L697.0,645.2 L697.5,647.1 L698.0,649.1 L698.5,651.0 L699.0,652.9 L699.6,654.8 L700.1,656.7 L700.6,658.6 L701.1,660.5 L701.7,662.4 L702.2,664.3 L702.8,666.2 L703.4,668.1 L704.0,669.9 L704.6,671.8 L705.2,673.7 L705.9,675.5 L706.6,677.3 L707.3,679.2 L708.0,681.0 L708.7,682.8 L709.5,684.6 L710.3,686.3 L711.1,688.1 L712.0,689.8 L712.8,691.5 L713.7,693.3 L714.6,695.0 L715.4,696.7 L716.2,698.5 L717.0,700.2 L717.7,702.0 L718.4,703.9 L719.1,705.7 L719.7,707.6 L720.3,709.4 L720.9,711.3 L721.6,713.2 L722.2,715.0 L722.9,716.8 L723.7,718.6 L724.5,720.4 L725.3,722.1 L726.2,723.8 L727.0,725.6 L727.9,727.3 L728.7,729.0 L729.5,730.8 L730.3,732.6 L731.1,734.3 L731.9,736.1 L732.7,737.9 L733.5,739.7 L734.3,741.4 L735.2,743.1 L736.1,744.8 L737.0,746.5 L737.9,748.2 L738.8,749.9 L739.7,751.6 L740.6,753.3 L741.5,755.0 L742.3,756.8 L743.2,758.5 L744.0,760.3 L744.8,762.0 L745.7,763.8 L746.5,765.5 L747.4,767.2 L748.3,768.9 L749.2,770.6 L750.2,772.3 L751.1,773.9 L752.1,775.5 L753.1,777.2 L754.1,778.8 L755.1,780.4 L756.1,782.0 L757.2,783.6 L758.2,785.2 L759.3,786.8 L760.3,788.3 L761.4,789.9 L762.5,791.5 L763.5,793.0 L764.6,794.6 L765.7,796.1 L766.8,797.6 L768.0,799.1 L769.1,800.6 L770.3,802.1 L771.5,803.5 L772.7,804.9 L773.9,806.3 L775.2,807.6 L776.5,808.9 L777.8,810.2 L779.1,811.5 L780.4,812.8 L781.8,814.0 L783.1,815.2 L784.5,816.5 L785.8,817.7 L787.2,818.9 L788.5,820.2 L789.8,821.4 L791.1,822.7 L792.4,824.0 L793.7,825.3 L795.0,826.7 L796.3,828.0 L797.5,829.3 L798.8,830.7 L800.1,832.1 L801.3,833.4 L802.5,834.8 L803.8,836.2 L805.0,837.5 L806.3,838.9 L807.6,840.2 L808.9,841.5 L810.2,842.8 L811.5,844.0 L812.9,845.3 L814.2,846.5 L815.6,847.7 L817.0,848.9 L818.4,850.1 L819.8,851.2 L821.1,852.4 L822.6,853.5 L824.0,854.6 L825.4,855.8 L826.8,856.8 L828.3,857.9 L829.7,858.9 L831.2,859.9 L832.8,860.8 L834.3,861.7 L835.8,862.5 L837.4,863.3 L839.0,864.1 L840.6,864.9 L842.1,865.6 L843.7,866.4 L845.3,867.2 L846.9,868.0 L848.4,868.8 L850.0,869.5 L851.6,870.2 L853.2,870.9 L854.8,871.5 L856.4,872.1 L858.1,872.5 L859.8,872.9 L861.4,873.2 L863.1,873.4 L864.8,873.7 L866.5,874.0 L868.2,874.4 L869.8,874.8 L871.5,875.3 L873.1,875.8 L874.8,876.3 L876.4,876.8 L878.1,877.2 L879.7,877.6 L881.4,877.9 L883.1,878.1 L884.8,878.4 L886.5,878.6 L888.2,878.8 L889.9,879.0 L891.6,879.2 L893.3,879.5 L895.0,879.8 L896.7,880.0 L898.4,880.3 L900.1,880.7 L901.7,881.0 L903.4,881.4 L905.1,881.9 L906.7,882.3 L908.4,882.8 L910.0,883.2 L911.7,883.5 L913.4,883.7 L915.1,883.8 L916.8,884.0 L918.5,884.1 L920.2,884.1 L921.9,884.2 L923.6,884.3 L925.3,884.4 L927.0,884.4 L928.8,884.5 L930.5,884.6 L932.2,884.7 L933.9,884.7 L935.6,884.8 L937.3,884.9 L939.0,884.9 L940.7,885.0 L942.4,885.0 L944.2,885.1 L945.9,885.1 L947.6,885.1 L949.3,885.2 L951.0,885.2 L952.7,885.2 L954.4,885.2 L956.1,885.3 L957.8,885.3 L959.5,885.3 L961.3,885.4 L963.0,885.4 L964.7,885.4 L966.4,885.5 L968.1,885.5 L969.8,885.5 L971.5,885.5 L973.2,885.6 L974.9,885.6 L976.7,885.6 L978.4,885.7 L980.1,885.7 L981.8,885.7 L983.5,885.8 L985.2,885.8 L986.9,885.8 L988.6,885.9 L990.3,885.9 L992.1,886.0 L993.8,886.1 L995.5,886.2 L997.1,886.4 L998.8,886.7 L1000.5,887.0 L1002.2,887.3 L1003.9,887.6 L1005.6,887.9 L1007.2,888.2 L1008.9,888.4 L1010.6,888.5 L1012.3,888.6 L1014.1,888.7 L1015.8,888.8 L1017.5,888.9 L1019.2,888.9 L1020.9,889.0 L1022.6,889.1 L1024.3,889.1 L1026.0,889.2 L1027.7,889.3 L1029.4,889.3 L1031.2,889.3 L1032.9,889.4 L1034.6,889.4 L1036.3,889.4 L1038.0,889.4 L1039.7,889.4 L1041.4,889.4 L1043.1,889.4 L1044.8,889.4 L1046.6,889.4 L1048.3,889.4 L1050.0,889.4 L1051.7,889.4 L1053.4,889.4 L1055.1,889.4 L1056.8,889.4 L1058.5,889.4 L1060.2,889.4 L1062.0,889.4 L1063.7,889.4 L1065.4,889.4 L1067.1,889.4 L1068.8,889.4 L1070.5,889.4 L1072.2,889.4"/>
</g></g>
<g fill="#000">
<rect x="179.2" y="127" width="6.7" height="805"/>
<rect x="165" y="124.2" width="16" height="7.6"/>
<rect x="165" y="255.0" width="16" height="7.6"/>
<rect x="165" y="388.8" width="16" height="7.6"/>
<rect x="165" y="519.6" width="16" height="7.6"/>
<rect x="165" y="653.8" width="16" height="7.6"/>
<rect x="165" y="784.2" width="16" height="7.6"/>
<rect x="165" y="918" width="1174" height="7"/>
<rect x="508.0" y="924" width="7" height="7.8"/>
<rect x="837.5" y="924" width="7" height="7.8"/>
<rect x="1170.0" y="924" width="7" height="7.8"/>
</g>
<text transform="translate(87.45,139.77) scale(1.2200,1)" font-size="41.80">30</text>
<text transform="translate(86.10,273.08) scale(1.2200,1)" font-size="41.80">25</text>
<text transform="translate(87.10,404.87) scale(1.2200,1)" font-size="41.80">20</text>
<text transform="translate(87.53,538.24) scale(1.2200,1)" font-size="41.80">15</text>
<text transform="translate(88.53,670.08) scale(1.2200,1)" font-size="41.80">10</text>
<text transform="translate(112.24,801.98) scale(1.2200,1)" font-size="41.80">5</text>
<text transform="translate(113.35,933.87) scale(1.2200,1)" font-size="41.80">0</text>
<text transform="translate(141.37,983.19) scale(1.2000,1)" font-size="41.80">-1.3</text>
<text transform="translate(470.98,983.24) scale(1.2000,1)" font-size="41.80">-1.1</text>
<text transform="translate(802.77,983.02) scale(1.2000,1)" font-size="41.80">-0.9</text>
<text transform="translate(1133.52,982.72) scale(1.2000,1)" font-size="41.80">-0.7</text>
<text transform="translate(694.91,1050.12) scale(1.1700,1)" font-size="50.30" font-weight="bold">E (V)</text>
<text transform="translate(60.31,589.34) scale(1.2400,1) rotate(-90)" font-size="49.10" font-weight="bold">I (μA)</text>
<g fill="#000">
<rect x="1099.2" y="75" width="6.6" height="438.8"/>
<rect x="1089" y="71.9" width="12" height="7"/>
<rect x="1089" y="158.5" width="12" height="7"/>
<rect x="1089" y="242.4" width="12" height="7"/>
<rect x="1089" y="328.5" width="12" height="7"/>
<rect x="1089" y="412.5" width="12" height="7"/>
<rect x="1089" y="499.4" width="620.8" height="6.5"/>
<rect x="1217.9" y="505" width="7" height="8.4"/>
<rect x="1334.5" y="505" width="7" height="8.4"/>
<rect x="1450.6" y="505" width="7" height="8.4"/>
<rect x="1567.0" y="505" width="7" height="8.4"/>
<rect x="1683.0" y="505" width="7" height="8.4"/>
</g>
<text transform="translate(1005.05,90.14) scale(1.2000,1)" font-size="39.20">2.5</text>
<text transform="translate(1006.05,174.80) scale(1.2000,1)" font-size="39.20">2.0</text>
<text transform="translate(1005.97,260.29) scale(1.2000,1)" font-size="39.20">1.5</text>
<text transform="translate(1007.07,345.24) scale(1.2000,1)" font-size="39.20">1.0</text>
<text transform="translate(1005.65,431.15) scale(1.2000,1)" font-size="39.20">0.5</text>
<text transform="translate(1006.65,515.90) scale(1.2000,1)" font-size="39.20">0.0</text>
<text transform="translate(1094.44,560.23) scale(1.1800,1)" font-size="38.50">0</text>
<text transform="translate(1209.79,560.42) scale(1.1800,1)" font-size="38.50">5</text>
<text transform="translate(1316.20,560.42) scale(1.1800,1)" font-size="38.50">10</text>
<text transform="translate(1431.65,560.61) scale(1.1800,1)" font-size="38.50">15</text>
<text transform="translate(1548.69,560.23) scale(1.1800,1)" font-size="38.50">20</text>
<text transform="translate(1664.04,560.42) scale(1.1800,1)" font-size="38.50">25</text>
<text transform="translate(965.88,416.70) scale(1.2700,1) rotate(-90)" font-size="47.50" font-weight="bold">Area (μA V)</text>
<text transform="translate(1291.33,625.15) scale(1.2200,1)" font-size="50.20" font-weight="bold">c (μg L</text>
<text transform="translate(1471.92,609.41) scale(1.1400,1)" font-size="32.90" font-weight="bold">-1</text>
<text transform="translate(1503.60,625.15) scale(1.2200,1)" font-size="50.20" font-weight="bold">)</text>
<text transform="translate(1663.77,125.45) scale(1.2200,1)" font-size="34.10">R²</text>
<text transform="translate(1715.14,125.10) scale(1.1940,1)" font-size="34.60">= 0.999</text>
<ellipse cx="1126.4" cy="488" rx="11.5" ry="10" fill="#266194"/><ellipse cx="1126.4" cy="488" rx="7.6" ry="6" fill="#000"/>
<ellipse cx="1197.5" cy="438" rx="11.5" ry="10" fill="#266194"/><ellipse cx="1197.5" cy="438" rx="7.6" ry="6" fill="#000"/>
<ellipse cx="1265" cy="394" rx="11.5" ry="10" fill="#266194"/><ellipse cx="1265" cy="394" rx="7.6" ry="6" fill="#000"/>
<ellipse cx="1336" cy="347" rx="11.5" ry="10" fill="#266194"/><ellipse cx="1336" cy="347" rx="7.6" ry="6" fill="#000"/>
<ellipse cx="1456" cy="286.5" rx="11.5" ry="10" fill="#266194"/><ellipse cx="1456" cy="286.5" rx="7.6" ry="6" fill="#000"/>
<ellipse cx="1569" cy="210.3" rx="11.5" ry="10" fill="#266194"/><ellipse cx="1569" cy="210.3" rx="7.6" ry="6" fill="#000"/>
<ellipse cx="1688.5" cy="137" rx="11.5" ry="10" fill="#266194"/><ellipse cx="1688.5" cy="137" rx="7.6" ry="6" fill="#000"/>
<line x1="1126.4" y1="483.5" x2="1688.5" y2="137" stroke="#000" stroke-width="4.4"/>
</svg></body></html>
